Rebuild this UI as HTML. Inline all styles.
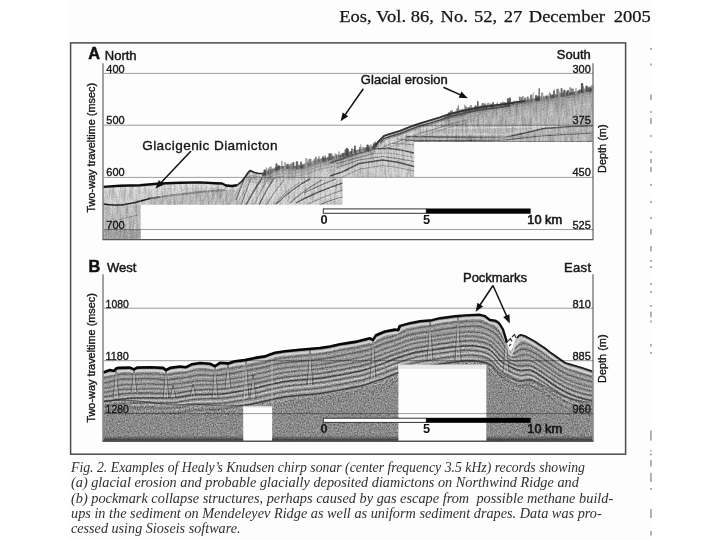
<!DOCTYPE html>
<html><head><meta charset="utf-8"><title>Eos figure</title>
<style>
html,body{margin:0;padding:0;background:#fff;width:720px;height:540px;overflow:hidden}
svg{display:block}
text{paint-order:stroke}
.hd{font-family:"Liberation Serif",serif;font-size:17px;fill:#151515;stroke:#151515;stroke-width:0.25px}
.pl{font-family:"Liberation Sans",sans-serif;font-size:16.3px;font-weight:bold;fill:#111;stroke:#111;stroke-width:0.5px}
.lb{font-family:"Liberation Sans",sans-serif;font-size:13px;fill:#151515;stroke:#151515;stroke-width:0.45px}
.ax{font-family:"Liberation Sans",sans-serif;font-size:11px;fill:#151515;stroke:#151515;stroke-width:0.35px}
.yl{font-family:"Liberation Sans",sans-serif;font-size:10.9px;fill:#151515;stroke:#151515;stroke-width:0.35px}
.sb{font-family:"Liberation Sans",sans-serif;font-size:12.8px;font-weight:bold;fill:#151515}
.sb2{font-family:"Liberation Sans",sans-serif;font-size:12.8px;fill:#151515;stroke:#151515;stroke-width:0.65px}
.cp{font-family:"Liberation Serif",serif;font-style:italic;font-size:14.2px;fill:#303030}
</style></head><body>
<svg width="720" height="540" viewBox="0 0 720 540">
<defs>
<filter id="nzd" x="0" y="0" width="720" height="540" filterUnits="userSpaceOnUse" primitiveUnits="userSpaceOnUse">
<feTurbulence type="fractalNoise" baseFrequency="0.7" numOctaves="2" seed="4" result="t"/>
<feColorMatrix in="t" type="matrix" values="0 0 0 0 0  0 0 0 0 0  0 0 0 0 0  1.8 0 0 0 -0.62"/>
</filter>
<filter id="nzl" x="0" y="0" width="720" height="540" filterUnits="userSpaceOnUse" primitiveUnits="userSpaceOnUse">
<feTurbulence type="fractalNoise" baseFrequency="0.7" numOctaves="2" seed="11" result="t"/>
<feColorMatrix in="t" type="matrix" values="0 0 0 0 1  0 0 0 0 1  0 0 0 0 1  1.8 0 0 0 -0.62"/>
</filter>
<filter id="nzd2" x="0" y="0" width="720" height="540" filterUnits="userSpaceOnUse" primitiveUnits="userSpaceOnUse">
<feTurbulence type="fractalNoise" baseFrequency="0.75 0.65" numOctaves="2" seed="5" result="t"/>
<feColorMatrix in="t" type="matrix" values="0 0 0 0 0  0 0 0 0 0  0 0 0 0 0  2.0 0 0 0 -0.7"/>
</filter>
<filter id="nzl2" x="0" y="0" width="720" height="540" filterUnits="userSpaceOnUse" primitiveUnits="userSpaceOnUse">
<feTurbulence type="fractalNoise" baseFrequency="0.75 0.65" numOctaves="2" seed="13" result="t"/>
<feColorMatrix in="t" type="matrix" values="0 0 0 0 1  0 0 0 0 1  0 0 0 0 1  2.0 0 0 0 -0.7"/>
</filter>
<filter id="nzv" x="0" y="0" width="720" height="540" filterUnits="userSpaceOnUse" primitiveUnits="userSpaceOnUse">
<feTurbulence type="fractalNoise" baseFrequency="0.5 0.06" numOctaves="2" seed="21" result="t"/>
<feColorMatrix in="t" type="matrix" values="0 0 0 0 0  0 0 0 0 0  0 0 0 0 0  2.0 0 0 0 -0.78"/>
</filter>
<clipPath id="cA"><polygon points="103.0,240.0 103.0,186.7 120.0,185.6 140.0,185.0 160.0,183.3 180.0,182.5 200.0,182.2 215.0,183.0 222.0,183.3 226.0,185.3 232.0,185.8 237.0,185.0 242.0,180.8 245.0,177.0 248.0,172.5 250.0,170.3 254.0,172.0 258.0,173.0 262.0,173.2 270.0,170.0 280.0,166.0 290.0,166.0 300.0,165.8 310.0,162.5 320.0,159.0 330.0,157.0 340.0,155.0 355.0,150.5 370.0,147.0 375.0,145.0 380.0,139.0 384.0,135.0 390.0,133.0 400.0,130.0 410.0,126.0 420.0,122.5 430.0,119.6 440.0,116.5 450.0,113.0 465.0,109.5 480.0,106.5 495.0,104.5 510.0,102.5 525.0,100.0 540.0,97.5 560.0,94.0 575.0,91.5 585.0,89.0 593.0,88.5 593.0,142.0 414.2,142.0 414.2,177.0 342.5,177.0 342.5,204.8 140.8,204.8 140.8,239.4 103.0,239.4"/></clipPath>
<clipPath id="cB"><polygon points="103.0,441.5 103.0,371.9 110.0,369.6 114.0,370.5 116.0,368.0 118.0,367.4 130.0,367.1 134.0,368.9 137.0,367.1 150.0,366.7 163.0,367.4 166.0,369.6 170.0,367.4 180.0,366.0 186.0,366.7 192.0,363.7 200.0,362.5 210.0,363.3 215.0,365.6 220.0,362.3 228.0,362.9 235.0,360.8 245.0,359.6 255.0,357.4 265.0,355.9 270.0,354.0 275.0,352.2 285.0,350.7 300.0,349.3 320.0,347.5 330.0,346.0 340.0,343.7 355.0,341.4 370.0,337.8 373.0,339.4 376.0,334.8 385.0,331.0 395.0,329.1 398.0,329.8 400.0,325.2 410.0,322.6 420.0,320.6 432.0,319.6 440.0,317.6 455.0,315.7 465.0,314.8 475.0,314.3 480.0,314.2 485.0,315.5 488.0,318.0 490.0,319.4 495.0,320.0 498.0,321.7 500.0,323.9 503.0,328.9 505.0,335.6 507.0,342.0 509.0,349.0 511.0,351.5 513.0,347.0 515.0,341.0 517.0,337.5 519.0,335.0 521.0,334.4 525.0,335.6 530.0,338.3 535.0,341.0 540.0,344.4 545.0,347.8 550.0,351.7 565.0,362.3 581.0,367.0 593.0,371.0 593.0,441.5 486.3,441.5 486.3,365.0 398.4,365.0 398.4,441.5 272.0,441.5 272.0,406.6 243.3,406.6 243.3,441.5"/></clipPath>
<filter id="soft" x="0" y="0" width="720" height="540" filterUnits="userSpaceOnUse"><feGaussianBlur stdDeviation="0.45"/></filter>
<filter id="soft2" x="0" y="0" width="720" height="540" filterUnits="userSpaceOnUse"><feGaussianBlur stdDeviation="0.6"/></filter>
</defs>
<rect x="0" y="0" width="720" height="540" fill="#fff"/>
<rect x="68" y="0" width="583" height="540" fill="#fdfdfd"/>
<text x="339.2" y="22.2" class="hd" transform="translate(339.2 0) scale(1.09 1) translate(-339.2 0)">Eos,</text>
<text x="376.1" y="22.2" class="hd" transform="translate(376.1 0) scale(1.09 1) translate(-376.1 0)">Vol.</text>
<text x="410.8" y="22.2" class="hd" transform="translate(410.8 0) scale(1.09 1) translate(-410.8 0)">86,</text>
<text x="440.6" y="22.2" class="hd" transform="translate(440.6 0) scale(1.09 1) translate(-440.6 0)">No.</text>
<text x="474" y="22.2" class="hd" transform="translate(474 0) scale(1.09 1) translate(-474 0)">52,</text>
<text x="503.8" y="22.2" class="hd" transform="translate(503.8 0) scale(1.09 1) translate(-503.8 0)">27</text>
<text x="528.8" y="22.2" class="hd" transform="translate(528.8 0) scale(1.09 1) translate(-528.8 0)">December</text>
<text x="613.8" y="22.2" class="hd" transform="translate(613.8 0) scale(1.09 1) translate(-613.8 0)">2005</text>
<rect x="70.6" y="42.9" width="555" height="411.3" fill="none" stroke="#4a4a4a" stroke-width="1.5"/>
<g clip-path="url(#cA)"><g filter="url(#soft)">
<rect x="103" y="80" width="490" height="162" fill="#dddddd"/>
<rect x="414" y="125" width="179" height="17" fill="#c6c6c6"/>
<rect x="445" y="80" width="148" height="45" fill="#c3c3c3"/>
<rect x="103" y="205" width="38" height="25" fill="#cbcbcb"/>
<rect x="103" y="229.8" width="38" height="10" fill="#a9a9a9"/>
<polygon points="150,199 200,192 240,189 240,206 150,206" fill="#cacaca"/>
<polyline points="103.0,189.9 106.0,189.7 109.0,189.5 112.0,189.3 115.0,189.1 118.0,188.9 121.0,188.8 124.0,188.7 127.0,188.6 130.0,188.5 133.0,188.4 136.0,188.3 139.0,188.2 142.0,188.0 145.0,187.8 148.0,187.5 151.0,187.3 154.0,187.0 157.0,186.8 160.0,186.5 163.0,186.4 166.0,186.3 169.0,186.1 172.0,186.0 175.0,185.9 178.0,185.8 181.0,185.7 184.0,185.6 187.0,185.6 190.0,185.5 193.0,185.5 196.0,185.5 199.0,185.4 202.0,185.5 205.0,185.7 208.0,185.8 211.0,186.0 214.0,186.1 217.0,186.3 220.0,186.4 223.0,187.0 226.0,188.5 229.0,188.8 232.0,189.0 235.0,188.5 238.0,187.4" fill="none" stroke="#ebebeb" stroke-width="3"/>
<polyline points="103,204 112,205 122,205 135,202.5 150,198.5 160,197" fill="none" stroke="#111" stroke-width="1.3"/>
<polyline points="150,198.5 170,195.5 200,192 225,190" fill="none" stroke="#7a7a7a" stroke-width="2" opacity="0.8"/>
<polyline points="112,222 125,218 138,215" fill="none" stroke="#8a8a8a" stroke-width="1" opacity="0.8"/>
<line x1="212" y1="187" x2="200" y2="206" stroke="#9a9a9a" stroke-width="1" opacity="0.6"/>
<line x1="219" y1="187" x2="207" y2="206" stroke="#9a9a9a" stroke-width="1" opacity="0.6"/>
<line x1="226" y1="187" x2="214" y2="206" stroke="#9a9a9a" stroke-width="1" opacity="0.6"/>
<line x1="233" y1="187" x2="221" y2="206" stroke="#9a9a9a" stroke-width="1" opacity="0.6"/>
<line x1="240" y1="187" x2="228" y2="206" stroke="#9a9a9a" stroke-width="1" opacity="0.6"/>
<line x1="247" y1="187" x2="235" y2="206" stroke="#9a9a9a" stroke-width="1" opacity="0.6"/>
<path d="M244,179 Q240,190 236,200" fill="none" stroke="#555" stroke-width="1.2" opacity="0.85"/>
<path d="M244,179 Q240,190 236,200" transform="translate(1.6 0.6)" fill="none" stroke="#f4f4f4" stroke-width="1" opacity="0.7"/>
<path d="M251,178 Q246,192 241,205" fill="none" stroke="#6a6a6a" stroke-width="1.0" opacity="0.85"/>
<path d="M251,178 Q246,192 241,205" transform="translate(1.6 0.6)" fill="none" stroke="#f4f4f4" stroke-width="1" opacity="0.7"/>
<path d="M262,178 Q254,190 246,205" fill="none" stroke="#3a3a3a" stroke-width="1.5" opacity="0.85"/>
<path d="M262,178 Q254,190 246,205" transform="translate(1.6 0.6)" fill="none" stroke="#f4f4f4" stroke-width="1" opacity="0.7"/>
<path d="M268,178 Q261,190 254,205" fill="none" stroke="#8a8a8a" stroke-width="1.0" opacity="0.85"/>
<path d="M268,178 Q261,190 254,205" transform="translate(1.6 0.6)" fill="none" stroke="#f4f4f4" stroke-width="1" opacity="0.7"/>
<path d="M274,178 Q266,190 259,205" fill="none" stroke="#4a4a4a" stroke-width="1.3" opacity="0.85"/>
<path d="M274,178 Q266,190 259,205" transform="translate(1.6 0.6)" fill="none" stroke="#f4f4f4" stroke-width="1" opacity="0.7"/>
<path d="M284,180 Q274,192 266,205" fill="none" stroke="#7a7a7a" stroke-width="1.1" opacity="0.85"/>
<path d="M284,180 Q274,192 266,205" transform="translate(1.6 0.6)" fill="none" stroke="#f4f4f4" stroke-width="1" opacity="0.7"/>
<path d="M310,179 Q292,188 276,204" fill="none" stroke="#3e3e3e" stroke-width="1.5" opacity="0.85"/>
<path d="M310,179 Q292,188 276,204" transform="translate(1.6 0.6)" fill="none" stroke="#f4f4f4" stroke-width="1" opacity="0.7"/>
<path d="M322,180 Q304,190 290,203" fill="none" stroke="#6a6a6a" stroke-width="1.2" opacity="0.85"/>
<path d="M322,180 Q304,190 290,203" transform="translate(1.6 0.6)" fill="none" stroke="#f4f4f4" stroke-width="1" opacity="0.7"/>
<path d="M336,179 Q318,186 304,193" fill="none" stroke="#5a5a5a" stroke-width="1.1" opacity="0.85"/>
<path d="M336,179 Q318,186 304,193" transform="translate(1.6 0.6)" fill="none" stroke="#f4f4f4" stroke-width="1" opacity="0.7"/>
<path d="M343,183 Q316,192 296,203" fill="none" stroke="#3a3a3a" stroke-width="1.4" opacity="0.85"/>
<path d="M343,183 Q316,192 296,203" transform="translate(1.6 0.6)" fill="none" stroke="#f4f4f4" stroke-width="1" opacity="0.7"/>
<path d="M343,190 Q325,196 308,204" fill="none" stroke="#777" stroke-width="1.1" opacity="0.85"/>
<path d="M343,190 Q325,196 308,204" transform="translate(1.6 0.6)" fill="none" stroke="#f4f4f4" stroke-width="1" opacity="0.7"/>
<path d="M343,197 Q330,200 320,205" fill="none" stroke="#666" stroke-width="1.1" opacity="0.85"/>
<path d="M343,197 Q330,200 320,205" transform="translate(1.6 0.6)" fill="none" stroke="#f4f4f4" stroke-width="1" opacity="0.7"/>
<path d="M300,182 Q285,192 278,200" fill="none" stroke="#999" stroke-width="1.0" opacity="0.85"/>
<path d="M300,182 Q285,192 278,200" transform="translate(1.6 0.6)" fill="none" stroke="#f4f4f4" stroke-width="1" opacity="0.7"/>
<polyline points="244.0,182.0 247.0,178.4 250.0,176.1 253.0,175.6 256.0,176.4 259.0,176.9 262.0,176.7 265.0,175.9 268.0,174.8 271.0,173.6 274.0,172.4 277.0,171.2 280.0,170.4 283.0,170.0 286.0,170.0 289.0,170.0 292.0,170.0 295.0,169.9 298.0,169.7 301.0,169.3 304.0,168.5 307.0,167.5 310.0,166.5 313.0,165.4 316.0,164.4 319.0,163.4 322.0,162.6 325.0,162.0 328.0,161.4 331.0,160.8 334.0,160.2 337.0,159.6 340.0,158.9 343.0,158.1" fill="none" stroke="#8a8a8a" stroke-width="1" opacity="0.5"/>
<polyline points="244.0,185.0 247.0,181.4 250.0,179.1 253.0,178.6 256.0,179.4 259.0,179.9 262.0,179.7 265.0,178.9 268.0,177.8 271.0,176.6 274.0,175.4 277.0,174.2 280.0,173.4 283.0,173.0 286.0,173.0 289.0,173.0 292.0,173.0 295.0,172.9 298.0,172.7 301.0,172.3 304.0,171.5 307.0,170.5 310.0,169.5 313.0,168.4 316.0,167.4 319.0,166.4 322.0,165.6 325.0,165.0 328.0,164.4 331.0,163.8 334.0,163.2 337.0,162.6 340.0,161.9 343.0,161.1" fill="none" stroke="#8a8a8a" stroke-width="1" opacity="0.5"/>
<polyline points="244.0,188.0 247.0,184.4 250.0,182.1 253.0,181.6 256.0,182.4 259.0,182.9 262.0,182.7 265.0,181.9 268.0,180.8 271.0,179.6 274.0,178.4 277.0,177.2 280.0,176.4 283.0,176.0 286.0,176.0 289.0,176.0 292.0,176.0 295.0,175.9 298.0,175.7 301.0,175.3 304.0,174.5 307.0,173.5 310.0,172.5 313.0,171.4 316.0,170.4 319.0,169.4 322.0,168.6 325.0,168.0 328.0,167.4 331.0,166.8 334.0,166.2 337.0,165.6 340.0,164.9 343.0,164.1" fill="none" stroke="#8a8a8a" stroke-width="1" opacity="0.5"/>
<polyline points="330.0,163.0 342.0,159.0 355.8,154.2 374.5,148.9 388.5,148.3 401.3,150.1 414.0,153.0" fill="none" stroke="#303030" stroke-width="1.4" opacity="0.85"/>
<polyline points="336.0,164.0 355.8,158.5 374.5,153.5 388.5,153.0 401.3,155.0 414.0,157.5" fill="none" stroke="#9a9a9a" stroke-width="1.0" opacity="0.85"/>
<polyline points="336.0,168.0 359.0,160.0 382.7,156.5 397.8,158.5 414.0,161.5" fill="none" stroke="#6a6a6a" stroke-width="1.0" opacity="0.85"/>
<polyline points="330.0,176.0 342.0,172.0 359.3,163.5 382.7,160.0 397.8,162.3 414.0,166.4" fill="none" stroke="#2e2e2e" stroke-width="1.5" opacity="0.85"/>
<polyline points="342.0,177.0 360.0,169.0 382.7,165.5 397.8,167.5 414.0,171.0" fill="none" stroke="#8a8a8a" stroke-width="1.0" opacity="0.85"/>
<polyline points="396.7,139.0 405.0,139.5 414.0,140.2" fill="none" stroke="#666" stroke-width="1.0" opacity="0.85"/>
<polyline points="392.0,143.5 405.0,144.0 414.0,145.0" fill="none" stroke="#888" stroke-width="1.0" opacity="0.85"/>
<polyline points="336.0,159.8 339.0,159.1 342.0,158.4 345.0,157.5 348.0,156.6 351.0,155.7 354.0,154.8 357.0,154.1 360.0,153.3 363.0,152.6 366.0,151.9 369.0,151.1 372.0,150.1 375.0,148.1" fill="none" stroke="#777" stroke-width="1" opacity="0.6"/>
<polyline points="336.0,163.3 339.0,162.6 342.0,161.9 345.0,161.0 348.0,160.1 351.0,159.2 354.0,158.3 357.0,157.6 360.0,156.8 363.0,156.1 366.0,155.4 369.0,154.6 372.0,153.6 375.0,151.6" fill="none" stroke="#777" stroke-width="1" opacity="0.6"/>
<polyline points="405.0,128.0 450.0,128.0 500.0,127.5 544.0,126.5 593.0,126.0" fill="none" stroke="#eeeeee" stroke-width="1.6" opacity="0.85"/>
<polyline points="405.0,136.5 440.0,137.0 480.0,137.2 505.0,137.5 525.0,133.0 544.0,128.5 570.0,126.5 593.0,125.8" fill="none" stroke="#3a3a3a" stroke-width="1.3" opacity="0.85"/>
<polyline points="405.0,133.5 440.0,134.0 480.0,134.2 505.0,134.5 525.0,130.5 544.0,127.0" fill="none" stroke="#e8e8e8" stroke-width="1.2" opacity="0.85"/>
<polyline points="405.0,140.5 440.0,140.5 470.0,140.3 505.0,140.0 540.0,136.0 593.0,133.0" fill="none" stroke="#4a4a4a" stroke-width="1.2" opacity="0.85"/>
<polyline points="405.0,139.0 470.0,138.8 520.0,136.8 560.0,133.5 593.0,131.0" fill="none" stroke="#aaaaaa" stroke-width="1.0" opacity="0.85"/>
<rect x="414" y="141" width="179" height="1.5" fill="#555" opacity="0.6"/>
<polyline points="380.0,144.2 383.0,141.5 386.0,139.6 389.0,138.4 392.0,137.4 395.0,136.5 398.0,135.6 401.0,134.5 404.0,133.4 407.0,132.2 410.0,131.1 413.0,130.0 416.0,128.9 419.0,127.9 422.0,126.9 425.0,126.1 428.0,125.2 431.0,124.3 434.0,123.4 437.0,122.4 440.0,121.5 443.0,120.4 446.0,119.4 449.0,118.4 452.0,117.6 455.0,116.8 458.0,116.1 461.0,115.4 464.0,114.8 467.0,114.1" fill="none" stroke="#6a6a6a" stroke-width="1" opacity="0.7"/>
<polyline points="380.0,147.7 383.0,145.0 386.0,143.1 389.0,141.9 392.0,140.9 395.0,140.0 398.0,139.1 401.0,138.0 404.0,136.9 407.0,135.7 410.0,134.6 413.0,133.5 416.0,132.4 419.0,131.4 422.0,130.4 425.0,129.6 428.0,128.7 431.0,127.8 434.0,126.9 437.0,125.9 440.0,125.0 443.0,123.9 446.0,122.9 449.0,121.9 452.0,121.1 455.0,120.3 458.0,119.6 461.0,118.9 464.0,118.3 467.0,117.6" fill="none" stroke="#e6e6e6" stroke-width="1" opacity="0.7"/>
<polyline points="380.0,150.2 383.0,147.5 386.0,145.6 389.0,144.4 392.0,143.4 395.0,142.5 398.0,141.6 401.0,140.5 404.0,139.4 407.0,138.2 410.0,137.1 413.0,136.0 416.0,134.9 419.0,133.9 422.0,132.9 425.0,132.1 428.0,131.2 431.0,130.3 434.0,129.4 437.0,128.4 440.0,127.5 443.0,126.4 446.0,125.4 449.0,124.4 452.0,123.6 455.0,122.8 458.0,122.1 461.0,121.4 464.0,120.8 467.0,120.1" fill="none" stroke="#777" stroke-width="1" opacity="0.7"/>
<polyline points="380.0,153.2 383.0,150.5 386.0,148.6 389.0,147.4 392.0,146.4 395.0,145.5 398.0,144.6 401.0,143.5 404.0,142.4 407.0,141.2 410.0,140.1 413.0,139.0 416.0,137.9 419.0,136.9 422.0,135.9 425.0,135.1 428.0,134.2 431.0,133.3 434.0,132.4 437.0,131.4 440.0,130.5 443.0,129.4 446.0,128.4 449.0,127.4 452.0,126.6 455.0,125.8 458.0,125.1 461.0,124.4 464.0,123.8 467.0,123.1" fill="none" stroke="#999" stroke-width="1" opacity="0.7"/>
<polyline points="262.0,173.7 264.0,172.9 266.0,172.1 268.0,171.3 270.0,170.5 272.0,169.7 274.0,168.9 276.0,168.1 278.0,167.3 280.0,166.5 282.0,166.5 284.0,166.5 286.0,166.5 288.0,166.5 290.0,166.5 292.0,166.5 294.0,166.4 296.0,166.4 298.0,166.3 300.0,166.3 302.0,165.6 304.0,165.0 306.0,164.3 308.0,163.7 310.0,163.0 312.0,162.3 314.0,161.6 316.0,160.9 318.0,160.2 320.0,159.5 322.0,159.1 324.0,158.7 326.0,158.3 328.0,157.9 330.0,157.5 332.0,157.1 334.0,156.7 336.0,156.3 338.0,155.9 340.0,155.5 342.0,154.9 344.0,154.3 346.0,153.7 348.0,153.1 350.0,152.5 352.0,151.9 354.0,151.3 356.0,150.8 358.0,150.3 360.0,149.8 362.0,149.4 364.0,148.9 366.0,148.4 368.0,148.0 370.0,147.5 372.0,146.7 374.0,145.9 376.0,144.3" fill="none" stroke="#555" stroke-width="2" opacity="0.75"/>
<polyline points="445.0,115.2 447.0,114.5 449.0,113.8 451.0,113.3 453.0,112.8 455.0,112.3 457.0,111.9 459.0,111.4 461.0,110.9 463.0,110.5 465.0,110.0 467.0,109.6 469.0,109.2 471.0,108.8 473.0,108.4 475.0,108.0 477.0,107.6 479.0,107.2 481.0,106.9 483.0,106.6 485.0,106.3 487.0,106.1 489.0,105.8 491.0,105.5 493.0,105.3 495.0,105.0 497.0,104.7 499.0,104.5 501.0,104.2 503.0,103.9 505.0,103.7 507.0,103.4 509.0,103.1 511.0,102.8 513.0,102.5 515.0,102.2 517.0,101.8 519.0,101.5 521.0,101.2 523.0,100.8 525.0,100.5 527.0,100.2 529.0,99.8 531.0,99.5 533.0,99.2 535.0,98.8 537.0,98.5 539.0,98.2 541.0,97.8 543.0,97.5 545.0,97.1 547.0,96.8 549.0,96.4 551.0,96.1 553.0,95.7 555.0,95.4 557.0,95.0 559.0,94.7 561.0,94.3 563.0,94.0 565.0,93.7 567.0,93.3 569.0,93.0 571.0,92.7 573.0,92.3 575.0,92.0 577.0,91.5 579.0,91.0 581.0,90.5 583.0,90.0 585.0,89.5 587.0,89.4 589.0,89.2 591.0,89.1 593.0,89.0" fill="none" stroke="#555" stroke-width="2" opacity="0.75"/>
<polyline points="262.0,175.2 264.0,174.4 266.0,173.6 268.0,172.8 270.0,172.0 272.0,171.2 274.0,170.4 276.0,169.6 278.0,168.8 280.0,168.0 282.0,168.0 284.0,168.0 286.0,168.0 288.0,168.0 290.0,168.0 292.0,168.0 294.0,167.9 296.0,167.9 298.0,167.8 300.0,167.8 302.0,167.1 304.0,166.5 306.0,165.8 308.0,165.2 310.0,164.5 312.0,163.8 314.0,163.1 316.0,162.4 318.0,161.7 320.0,161.0 322.0,160.6 324.0,160.2 326.0,159.8 328.0,159.4 330.0,159.0 332.0,158.6 334.0,158.2 336.0,157.8 338.0,157.4 340.0,157.0 342.0,156.4 344.0,155.8 346.0,155.2 348.0,154.6 350.0,154.0 352.0,153.4 354.0,152.8 356.0,152.3 358.0,151.8 360.0,151.3 362.0,150.9 364.0,150.4 366.0,149.9 368.0,149.5 370.0,149.0 372.0,148.2 374.0,147.4 376.0,145.8" fill="none" stroke="#555" stroke-width="2" opacity="0.55"/>
<polyline points="445.0,116.8 447.0,116.0 449.0,115.3 451.0,114.8 453.0,114.3 455.0,113.8 457.0,113.4 459.0,112.9 461.0,112.4 463.0,112.0 465.0,111.5 467.0,111.1 469.0,110.7 471.0,110.3 473.0,109.9 475.0,109.5 477.0,109.1 479.0,108.7 481.0,108.4 483.0,108.1 485.0,107.8 487.0,107.6 489.0,107.3 491.0,107.0 493.0,106.8 495.0,106.5 497.0,106.2 499.0,106.0 501.0,105.7 503.0,105.4 505.0,105.2 507.0,104.9 509.0,104.6 511.0,104.3 513.0,104.0 515.0,103.7 517.0,103.3 519.0,103.0 521.0,102.7 523.0,102.3 525.0,102.0 527.0,101.7 529.0,101.3 531.0,101.0 533.0,100.7 535.0,100.3 537.0,100.0 539.0,99.7 541.0,99.3 543.0,99.0 545.0,98.6 547.0,98.3 549.0,97.9 551.0,97.6 553.0,97.2 555.0,96.9 557.0,96.5 559.0,96.2 561.0,95.8 563.0,95.5 565.0,95.2 567.0,94.8 569.0,94.5 571.0,94.2 573.0,93.8 575.0,93.5 577.0,93.0 579.0,92.5 581.0,92.0 583.0,91.5 585.0,91.0 587.0,90.9 589.0,90.8 591.0,90.6 593.0,90.5" fill="none" stroke="#555" stroke-width="2" opacity="0.55"/>
<polyline points="262.0,176.7 264.0,175.9 266.0,175.1 268.0,174.3 270.0,173.5 272.0,172.7 274.0,171.9 276.0,171.1 278.0,170.3 280.0,169.5 282.0,169.5 284.0,169.5 286.0,169.5 288.0,169.5 290.0,169.5 292.0,169.5 294.0,169.4 296.0,169.4 298.0,169.3 300.0,169.3 302.0,168.6 304.0,168.0 306.0,167.3 308.0,166.7 310.0,166.0 312.0,165.3 314.0,164.6 316.0,163.9 318.0,163.2 320.0,162.5 322.0,162.1 324.0,161.7 326.0,161.3 328.0,160.9 330.0,160.5 332.0,160.1 334.0,159.7 336.0,159.3 338.0,158.9 340.0,158.5 342.0,157.9 344.0,157.3 346.0,156.7 348.0,156.1 350.0,155.5 352.0,154.9 354.0,154.3 356.0,153.8 358.0,153.3 360.0,152.8 362.0,152.4 364.0,151.9 366.0,151.4 368.0,151.0 370.0,150.5 372.0,149.7 374.0,148.9 376.0,147.3" fill="none" stroke="#555" stroke-width="2" opacity="0.4"/>
<polyline points="445.0,118.2 447.0,117.5 449.0,116.8 451.0,116.3 453.0,115.8 455.0,115.3 457.0,114.9 459.0,114.4 461.0,113.9 463.0,113.5 465.0,113.0 467.0,112.6 469.0,112.2 471.0,111.8 473.0,111.4 475.0,111.0 477.0,110.6 479.0,110.2 481.0,109.9 483.0,109.6 485.0,109.3 487.0,109.1 489.0,108.8 491.0,108.5 493.0,108.3 495.0,108.0 497.0,107.7 499.0,107.5 501.0,107.2 503.0,106.9 505.0,106.7 507.0,106.4 509.0,106.1 511.0,105.8 513.0,105.5 515.0,105.2 517.0,104.8 519.0,104.5 521.0,104.2 523.0,103.8 525.0,103.5 527.0,103.2 529.0,102.8 531.0,102.5 533.0,102.2 535.0,101.8 537.0,101.5 539.0,101.2 541.0,100.8 543.0,100.5 545.0,100.1 547.0,99.8 549.0,99.4 551.0,99.1 553.0,98.7 555.0,98.4 557.0,98.0 559.0,97.7 561.0,97.3 563.0,97.0 565.0,96.7 567.0,96.3 569.0,96.0 571.0,95.7 573.0,95.3 575.0,95.0 577.0,94.5 579.0,94.0 581.0,93.5 583.0,93.0 585.0,92.5 587.0,92.4 589.0,92.2 591.0,92.1 593.0,92.0" fill="none" stroke="#555" stroke-width="2" opacity="0.4"/>
<polyline points="262.0,178.7 264.0,177.9 266.0,177.1 268.0,176.3 270.0,175.5 272.0,174.7 274.0,173.9 276.0,173.1 278.0,172.3 280.0,171.5 282.0,171.5 284.0,171.5 286.0,171.5 288.0,171.5 290.0,171.5 292.0,171.5 294.0,171.4 296.0,171.4 298.0,171.3 300.0,171.3 302.0,170.6 304.0,170.0 306.0,169.3 308.0,168.7 310.0,168.0 312.0,167.3 314.0,166.6 316.0,165.9 318.0,165.2 320.0,164.5 322.0,164.1 324.0,163.7 326.0,163.3 328.0,162.9 330.0,162.5 332.0,162.1 334.0,161.7 336.0,161.3 338.0,160.9 340.0,160.5 342.0,159.9 344.0,159.3 346.0,158.7 348.0,158.1 350.0,157.5 352.0,156.9 354.0,156.3 356.0,155.8 358.0,155.3 360.0,154.8 362.0,154.4 364.0,153.9 366.0,153.4 368.0,153.0 370.0,152.5 372.0,151.7 374.0,150.9 376.0,149.3" fill="none" stroke="#555" stroke-width="2" opacity="0.3"/>
<polyline points="445.0,120.2 447.0,119.5 449.0,118.8 451.0,118.3 453.0,117.8 455.0,117.3 457.0,116.9 459.0,116.4 461.0,115.9 463.0,115.5 465.0,115.0 467.0,114.6 469.0,114.2 471.0,113.8 473.0,113.4 475.0,113.0 477.0,112.6 479.0,112.2 481.0,111.9 483.0,111.6 485.0,111.3 487.0,111.1 489.0,110.8 491.0,110.5 493.0,110.3 495.0,110.0 497.0,109.7 499.0,109.5 501.0,109.2 503.0,108.9 505.0,108.7 507.0,108.4 509.0,108.1 511.0,107.8 513.0,107.5 515.0,107.2 517.0,106.8 519.0,106.5 521.0,106.2 523.0,105.8 525.0,105.5 527.0,105.2 529.0,104.8 531.0,104.5 533.0,104.2 535.0,103.8 537.0,103.5 539.0,103.2 541.0,102.8 543.0,102.5 545.0,102.1 547.0,101.8 549.0,101.4 551.0,101.1 553.0,100.7 555.0,100.4 557.0,100.0 559.0,99.7 561.0,99.3 563.0,99.0 565.0,98.7 567.0,98.3 569.0,98.0 571.0,97.7 573.0,97.3 575.0,97.0 577.0,96.5 579.0,96.0 581.0,95.5 583.0,95.0 585.0,94.5 587.0,94.4 589.0,94.2 591.0,94.1 593.0,94.0" fill="none" stroke="#555" stroke-width="2" opacity="0.3"/>
<polyline points="262.0,181.2 264.0,180.4 266.0,179.6 268.0,178.8 270.0,178.0 272.0,177.2 274.0,176.4 276.0,175.6 278.0,174.8 280.0,174.0 282.0,174.0 284.0,174.0 286.0,174.0 288.0,174.0 290.0,174.0 292.0,174.0 294.0,173.9 296.0,173.9 298.0,173.8 300.0,173.8 302.0,173.1 304.0,172.5 306.0,171.8 308.0,171.2 310.0,170.5 312.0,169.8 314.0,169.1 316.0,168.4 318.0,167.7 320.0,167.0 322.0,166.6 324.0,166.2 326.0,165.8 328.0,165.4 330.0,165.0 332.0,164.6 334.0,164.2 336.0,163.8 338.0,163.4 340.0,163.0 342.0,162.4 344.0,161.8 346.0,161.2 348.0,160.6 350.0,160.0 352.0,159.4 354.0,158.8 356.0,158.3 358.0,157.8 360.0,157.3 362.0,156.9 364.0,156.4 366.0,155.9 368.0,155.5 370.0,155.0 372.0,154.2 374.0,153.4 376.0,151.8" fill="none" stroke="#555" stroke-width="2" opacity="0.2"/>
<polyline points="445.0,122.8 447.0,122.0 449.0,121.3 451.0,120.8 453.0,120.3 455.0,119.8 457.0,119.4 459.0,118.9 461.0,118.4 463.0,118.0 465.0,117.5 467.0,117.1 469.0,116.7 471.0,116.3 473.0,115.9 475.0,115.5 477.0,115.1 479.0,114.7 481.0,114.4 483.0,114.1 485.0,113.8 487.0,113.6 489.0,113.3 491.0,113.0 493.0,112.8 495.0,112.5 497.0,112.2 499.0,112.0 501.0,111.7 503.0,111.4 505.0,111.2 507.0,110.9 509.0,110.6 511.0,110.3 513.0,110.0 515.0,109.7 517.0,109.3 519.0,109.0 521.0,108.7 523.0,108.3 525.0,108.0 527.0,107.7 529.0,107.3 531.0,107.0 533.0,106.7 535.0,106.3 537.0,106.0 539.0,105.7 541.0,105.3 543.0,105.0 545.0,104.6 547.0,104.3 549.0,103.9 551.0,103.6 553.0,103.2 555.0,102.9 557.0,102.5 559.0,102.2 561.0,101.8 563.0,101.5 565.0,101.2 567.0,100.8 569.0,100.5 571.0,100.2 573.0,99.8 575.0,99.5 577.0,99.0 579.0,98.5 581.0,98.0 583.0,97.5 585.0,97.0 587.0,96.9 589.0,96.8 591.0,96.6 593.0,96.5" fill="none" stroke="#555" stroke-width="2" opacity="0.2"/>
<polyline points="262.0,183.7 264.0,182.9 266.0,182.1 268.0,181.3 270.0,180.5 272.0,179.7 274.0,178.9 276.0,178.1 278.0,177.3 280.0,176.5 282.0,176.5 284.0,176.5 286.0,176.5 288.0,176.5 290.0,176.5 292.0,176.5 294.0,176.4 296.0,176.4 298.0,176.3 300.0,176.3 302.0,175.6 304.0,175.0 306.0,174.3 308.0,173.7 310.0,173.0 312.0,172.3 314.0,171.6 316.0,170.9 318.0,170.2 320.0,169.5 322.0,169.1 324.0,168.7 326.0,168.3 328.0,167.9 330.0,167.5 332.0,167.1 334.0,166.7 336.0,166.3 338.0,165.9 340.0,165.5 342.0,164.9 344.0,164.3 346.0,163.7 348.0,163.1 350.0,162.5 352.0,161.9 354.0,161.3 356.0,160.8 358.0,160.3 360.0,159.8 362.0,159.4 364.0,158.9 366.0,158.4 368.0,158.0 370.0,157.5 372.0,156.7 374.0,155.9 376.0,154.3" fill="none" stroke="#555" stroke-width="2" opacity="0.12"/>
<polyline points="445.0,125.2 447.0,124.5 449.0,123.8 451.0,123.3 453.0,122.8 455.0,122.3 457.0,121.9 459.0,121.4 461.0,120.9 463.0,120.5 465.0,120.0 467.0,119.6 469.0,119.2 471.0,118.8 473.0,118.4 475.0,118.0 477.0,117.6 479.0,117.2 481.0,116.9 483.0,116.6 485.0,116.3 487.0,116.1 489.0,115.8 491.0,115.5 493.0,115.3 495.0,115.0 497.0,114.7 499.0,114.5 501.0,114.2 503.0,113.9 505.0,113.7 507.0,113.4 509.0,113.1 511.0,112.8 513.0,112.5 515.0,112.2 517.0,111.8 519.0,111.5 521.0,111.2 523.0,110.8 525.0,110.5 527.0,110.2 529.0,109.8 531.0,109.5 533.0,109.2 535.0,108.8 537.0,108.5 539.0,108.2 541.0,107.8 543.0,107.5 545.0,107.1 547.0,106.8 549.0,106.4 551.0,106.1 553.0,105.7 555.0,105.4 557.0,105.0 559.0,104.7 561.0,104.3 563.0,104.0 565.0,103.7 567.0,103.3 569.0,103.0 571.0,102.7 573.0,102.3 575.0,102.0 577.0,101.5 579.0,101.0 581.0,100.5 583.0,100.0 585.0,99.5 587.0,99.4 589.0,99.2 591.0,99.1 593.0,99.0" fill="none" stroke="#555" stroke-width="2" opacity="0.12"/>
<polyline points="262.0,186.2 264.0,185.4 266.0,184.6 268.0,183.8 270.0,183.0 272.0,182.2 274.0,181.4 276.0,180.6 278.0,179.8 280.0,179.0 282.0,179.0 284.0,179.0 286.0,179.0 288.0,179.0 290.0,179.0 292.0,179.0 294.0,178.9 296.0,178.9 298.0,178.8 300.0,178.8 302.0,178.1 304.0,177.5 306.0,176.8 308.0,176.2 310.0,175.5 312.0,174.8 314.0,174.1 316.0,173.4 318.0,172.7 320.0,172.0 322.0,171.6 324.0,171.2 326.0,170.8 328.0,170.4 330.0,170.0 332.0,169.6 334.0,169.2 336.0,168.8 338.0,168.4 340.0,168.0 342.0,167.4 344.0,166.8 346.0,166.2 348.0,165.6 350.0,165.0 352.0,164.4 354.0,163.8 356.0,163.3 358.0,162.8 360.0,162.3 362.0,161.9 364.0,161.4 366.0,160.9 368.0,160.5 370.0,160.0 372.0,159.2 374.0,158.4 376.0,156.8" fill="none" stroke="#555" stroke-width="2" opacity="0.08"/>
<polyline points="445.0,127.8 447.0,127.0 449.0,126.3 451.0,125.8 453.0,125.3 455.0,124.8 457.0,124.4 459.0,123.9 461.0,123.4 463.0,123.0 465.0,122.5 467.0,122.1 469.0,121.7 471.0,121.3 473.0,120.9 475.0,120.5 477.0,120.1 479.0,119.7 481.0,119.4 483.0,119.1 485.0,118.8 487.0,118.6 489.0,118.3 491.0,118.0 493.0,117.8 495.0,117.5 497.0,117.2 499.0,117.0 501.0,116.7 503.0,116.4 505.0,116.2 507.0,115.9 509.0,115.6 511.0,115.3 513.0,115.0 515.0,114.7 517.0,114.3 519.0,114.0 521.0,113.7 523.0,113.3 525.0,113.0 527.0,112.7 529.0,112.3 531.0,112.0 533.0,111.7 535.0,111.3 537.0,111.0 539.0,110.7 541.0,110.3 543.0,110.0 545.0,109.6 547.0,109.3 549.0,108.9 551.0,108.6 553.0,108.2 555.0,107.9 557.0,107.5 559.0,107.2 561.0,106.8 563.0,106.5 565.0,106.2 567.0,105.8 569.0,105.5 571.0,105.2 573.0,104.8 575.0,104.5 577.0,104.0 579.0,103.5 581.0,103.0 583.0,102.5 585.0,102.0 587.0,101.9 589.0,101.8 591.0,101.6 593.0,101.5" fill="none" stroke="#555" stroke-width="2" opacity="0.08"/>
<rect x="103" y="80" width="490" height="162" fill="#000" filter="url(#nzd)" opacity="0.2"/>
<rect x="103" y="80" width="490" height="162" fill="#fff" filter="url(#nzl)" opacity="0.3"/>
<rect x="445" y="80" width="148" height="45" fill="#000" filter="url(#nzv)" opacity="0.25"/>
</g></g>
<g filter="url(#soft2)">
<rect x="262.0" y="172.3" width="2.0" height="3.9" rx="0.8" fill="#555" opacity="0.85"/>
<rect x="263.6" y="169.5" width="2.4" height="6.1" rx="0.8" fill="#3a3a3a" opacity="0.85"/>
<rect x="264.9" y="170.0" width="1.6" height="5.1" rx="0.8" fill="#4a4a4a" opacity="0.85"/>
<rect x="265.8" y="167.3" width="1.3" height="7.3" rx="0.8" fill="#8a8a8a" opacity="0.85"/>
<rect x="267.8" y="168.5" width="2.3" height="5.3" rx="0.8" fill="#555" opacity="0.85"/>
<rect x="268.9" y="166.5" width="1.0" height="6.9" rx="0.8" fill="#a0a0a0" opacity="0.85"/>
<rect x="270.2" y="166.2" width="1.3" height="6.7" rx="0.8" fill="#606060" opacity="0.85"/>
<rect x="271.4" y="168.2" width="1.7" height="4.2" rx="0.8" fill="#7a7a7a" opacity="0.85"/>
<rect x="274.6" y="166.9" width="1.9" height="4.2" rx="0.8" fill="#6a6a6a" opacity="0.85"/>
<rect x="275.5" y="163.2" width="2.0" height="7.6" rx="0.8" fill="#4a4a4a" opacity="0.85"/>
<rect x="276.8" y="166.1" width="2.2" height="4.2" rx="0.8" fill="#4a4a4a" opacity="0.85"/>
<rect x="278.0" y="165.1" width="1.8" height="4.7" rx="0.8" fill="#4a4a4a" opacity="0.85"/>
<rect x="281.3" y="160.8" width="1.1" height="8.2" rx="0.8" fill="#6a6a6a" opacity="0.85"/>
<rect x="283.9" y="161.9" width="2.1" height="7.1" rx="0.8" fill="#a0a0a0" opacity="0.85"/>
<rect x="285.5" y="164.9" width="2.4" height="4.1" rx="0.8" fill="#7a7a7a" opacity="0.85"/>
<rect x="286.5" y="163.7" width="2.4" height="5.3" rx="0.8" fill="#555" opacity="0.85"/>
<rect x="288.2" y="165.0" width="2.1" height="4.0" rx="0.8" fill="#6a6a6a" opacity="0.85"/>
<rect x="289.6" y="163.8" width="2.0" height="5.2" rx="0.8" fill="#8a8a8a" opacity="0.85"/>
<rect x="290.6" y="163.5" width="2.1" height="5.5" rx="0.8" fill="#7a7a7a" opacity="0.85"/>
<rect x="291.5" y="162.4" width="2.3" height="6.6" rx="0.8" fill="#8a8a8a" opacity="0.85"/>
<rect x="292.8" y="161.9" width="1.6" height="7.1" rx="0.8" fill="#555" opacity="0.85"/>
<rect x="295.8" y="161.3" width="2.3" height="7.6" rx="0.8" fill="#3a3a3a" opacity="0.85"/>
<rect x="296.6" y="161.5" width="1.3" height="7.4" rx="0.8" fill="#7a7a7a" opacity="0.85"/>
<rect x="297.6" y="164.2" width="1.3" height="4.7" rx="0.8" fill="#7a7a7a" opacity="0.85"/>
<rect x="298.6" y="164.4" width="1.1" height="4.4" rx="0.8" fill="#606060" opacity="0.85"/>
<rect x="300.1" y="161.4" width="1.9" height="7.4" rx="0.8" fill="#555" opacity="0.85"/>
<rect x="301.3" y="164.5" width="2.2" height="3.9" rx="0.8" fill="#3a3a3a" opacity="0.85"/>
<rect x="302.3" y="163.9" width="1.3" height="4.2" rx="0.8" fill="#6a6a6a" opacity="0.85"/>
<rect x="303.4" y="163.6" width="2.2" height="4.0" rx="0.8" fill="#7a7a7a" opacity="0.85"/>
<rect x="304.9" y="158.1" width="2.3" height="9.1" rx="0.8" fill="#a0a0a0" opacity="0.85"/>
<rect x="306.4" y="161.7" width="1.4" height="5.0" rx="0.8" fill="#8a8a8a" opacity="0.85"/>
<rect x="307.6" y="159.0" width="1.1" height="7.3" rx="0.8" fill="#606060" opacity="0.85"/>
<rect x="309.1" y="158.7" width="2.3" height="7.0" rx="0.8" fill="#6a6a6a" opacity="0.85"/>
<rect x="310.7" y="161.4" width="1.7" height="3.8" rx="0.8" fill="#8a8a8a" opacity="0.85"/>
<rect x="311.6" y="160.7" width="1.6" height="4.2" rx="0.8" fill="#a0a0a0" opacity="0.85"/>
<rect x="312.9" y="159.6" width="1.4" height="4.9" rx="0.8" fill="#a0a0a0" opacity="0.85"/>
<rect x="314.2" y="158.2" width="1.9" height="5.9" rx="0.8" fill="#606060" opacity="0.85"/>
<rect x="315.1" y="156.6" width="1.8" height="7.1" rx="0.8" fill="#7a7a7a" opacity="0.85"/>
<rect x="316.4" y="159.2" width="2.2" height="4.0" rx="0.8" fill="#a0a0a0" opacity="0.85"/>
<rect x="317.3" y="158.2" width="2.1" height="4.7" rx="0.8" fill="#7a7a7a" opacity="0.85"/>
<rect x="318.4" y="156.0" width="1.2" height="6.6" rx="0.8" fill="#6a6a6a" opacity="0.85"/>
<rect x="320.8" y="157.8" width="2.3" height="4.0" rx="0.8" fill="#8a8a8a" opacity="0.85"/>
<rect x="322.2" y="156.1" width="1.6" height="5.4" rx="0.8" fill="#4a4a4a" opacity="0.85"/>
<rect x="323.2" y="157.3" width="1.2" height="4.1" rx="0.8" fill="#4a4a4a" opacity="0.85"/>
<rect x="324.5" y="155.3" width="1.3" height="5.8" rx="0.8" fill="#4a4a4a" opacity="0.85"/>
<rect x="327.1" y="156.7" width="1.2" height="3.9" rx="0.8" fill="#6a6a6a" opacity="0.85"/>
<rect x="328.4" y="153.3" width="2.1" height="7.0" rx="0.8" fill="#4a4a4a" opacity="0.85"/>
<rect x="329.7" y="153.2" width="1.3" height="6.8" rx="0.8" fill="#555" opacity="0.85"/>
<rect x="330.7" y="153.3" width="1.8" height="6.6" rx="0.8" fill="#6a6a6a" opacity="0.85"/>
<rect x="332.1" y="155.6" width="1.2" height="3.9" rx="0.8" fill="#555" opacity="0.85"/>
<rect x="334.2" y="153.3" width="2.1" height="5.9" rx="0.8" fill="#a0a0a0" opacity="0.85"/>
<rect x="335.7" y="154.5" width="1.9" height="4.3" rx="0.8" fill="#606060" opacity="0.85"/>
<rect x="337.1" y="154.3" width="1.1" height="4.2" rx="0.8" fill="#a0a0a0" opacity="0.85"/>
<rect x="338.4" y="151.2" width="1.1" height="7.1" rx="0.8" fill="#6a6a6a" opacity="0.85"/>
<rect x="339.8" y="154.2" width="2.4" height="3.8" rx="0.8" fill="#555" opacity="0.85"/>
<rect x="340.8" y="153.2" width="2.3" height="4.6" rx="0.8" fill="#8a8a8a" opacity="0.85"/>
<rect x="342.3" y="152.8" width="1.2" height="4.5" rx="0.8" fill="#3a3a3a" opacity="0.85"/>
<rect x="343.4" y="152.5" width="2.1" height="4.5" rx="0.8" fill="#4a4a4a" opacity="0.85"/>
<rect x="344.4" y="149.5" width="2.3" height="7.2" rx="0.8" fill="#7a7a7a" opacity="0.85"/>
<rect x="345.6" y="148.1" width="2.4" height="8.2" rx="0.8" fill="#3a3a3a" opacity="0.85"/>
<rect x="346.9" y="148.9" width="2.0" height="7.0" rx="0.8" fill="#4a4a4a" opacity="0.85"/>
<rect x="348.5" y="151.5" width="1.6" height="4.0" rx="0.8" fill="#6a6a6a" opacity="0.85"/>
<rect x="349.6" y="151.1" width="1.9" height="4.0" rx="0.8" fill="#6a6a6a" opacity="0.85"/>
<rect x="351.2" y="148.5" width="1.6" height="6.1" rx="0.8" fill="#3a3a3a" opacity="0.85"/>
<rect x="352.0" y="149.3" width="2.2" height="5.1" rx="0.8" fill="#8a8a8a" opacity="0.85"/>
<rect x="352.9" y="148.8" width="2.1" height="5.4" rx="0.8" fill="#a0a0a0" opacity="0.85"/>
<rect x="354.1" y="145.6" width="1.7" height="8.2" rx="0.8" fill="#3a3a3a" opacity="0.85"/>
<rect x="357.7" y="149.0" width="1.5" height="3.9" rx="0.8" fill="#a0a0a0" opacity="0.85"/>
<rect x="359.3" y="146.8" width="1.4" height="5.7" rx="0.8" fill="#3a3a3a" opacity="0.85"/>
<rect x="360.3" y="144.1" width="1.0" height="8.2" rx="0.8" fill="#8a8a8a" opacity="0.85"/>
<rect x="361.4" y="146.8" width="2.3" height="5.2" rx="0.8" fill="#a0a0a0" opacity="0.85"/>
<rect x="362.7" y="147.5" width="1.1" height="4.2" rx="0.8" fill="#7a7a7a" opacity="0.85"/>
<rect x="364.3" y="146.9" width="1.2" height="4.4" rx="0.8" fill="#6a6a6a" opacity="0.85"/>
<rect x="365.5" y="147.0" width="1.8" height="4.0" rx="0.8" fill="#606060" opacity="0.85"/>
<rect x="366.5" y="144.4" width="2.2" height="6.4" rx="0.8" fill="#3a3a3a" opacity="0.85"/>
<rect x="367.4" y="146.5" width="1.1" height="4.1" rx="0.8" fill="#4a4a4a" opacity="0.85"/>
<rect x="368.2" y="146.0" width="1.4" height="4.4" rx="0.8" fill="#4a4a4a" opacity="0.85"/>
<rect x="369.7" y="144.6" width="2.2" height="5.5" rx="0.8" fill="#8a8a8a" opacity="0.85"/>
<rect x="372.8" y="143.2" width="2.2" height="5.7" rx="0.8" fill="#3a3a3a" opacity="0.85"/>
<rect x="374.2" y="141.4" width="1.8" height="6.9" rx="0.8" fill="#606060" opacity="0.85"/>
<rect x="375.5" y="142.7" width="1.8" height="4.7" rx="0.8" fill="#4a4a4a" opacity="0.85"/>
<rect x="376.9" y="140.4" width="1.4" height="5.3" rx="0.8" fill="#7a7a7a" opacity="0.85"/>
<rect x="448.1" y="112.2" width="1.7" height="4.5" rx="0.8" fill="#4a4a4a" opacity="0.85"/>
<rect x="449.2" y="112.3" width="2.1" height="4.0" rx="0.8" fill="#606060" opacity="0.85"/>
<rect x="450.1" y="110.5" width="2.2" height="5.5" rx="0.8" fill="#606060" opacity="0.85"/>
<rect x="451.4" y="110.0" width="1.4" height="5.7" rx="0.8" fill="#8a8a8a" opacity="0.85"/>
<rect x="453.8" y="111.2" width="1.9" height="3.9" rx="0.8" fill="#8a8a8a" opacity="0.85"/>
<rect x="456.4" y="108.2" width="2.1" height="6.3" rx="0.8" fill="#606060" opacity="0.85"/>
<rect x="457.7" y="105.3" width="1.4" height="8.9" rx="0.8" fill="#7a7a7a" opacity="0.85"/>
<rect x="459.0" y="109.2" width="1.5" height="4.7" rx="0.8" fill="#8a8a8a" opacity="0.85"/>
<rect x="460.3" y="108.9" width="2.4" height="4.7" rx="0.8" fill="#a0a0a0" opacity="0.85"/>
<rect x="461.8" y="108.8" width="2.2" height="4.4" rx="0.8" fill="#7a7a7a" opacity="0.85"/>
<rect x="464.3" y="104.6" width="1.1" height="8.1" rx="0.8" fill="#6a6a6a" opacity="0.85"/>
<rect x="465.3" y="106.3" width="1.4" height="6.2" rx="0.8" fill="#555" opacity="0.85"/>
<rect x="466.2" y="107.0" width="1.1" height="5.3" rx="0.8" fill="#606060" opacity="0.85"/>
<rect x="467.3" y="107.6" width="1.9" height="4.4" rx="0.8" fill="#555" opacity="0.85"/>
<rect x="468.6" y="106.9" width="1.5" height="4.9" rx="0.8" fill="#3a3a3a" opacity="0.85"/>
<rect x="469.8" y="104.9" width="2.1" height="6.7" rx="0.8" fill="#7a7a7a" opacity="0.85"/>
<rect x="471.1" y="107.4" width="2.2" height="3.9" rx="0.8" fill="#555" opacity="0.85"/>
<rect x="472.4" y="107.3" width="1.0" height="3.7" rx="0.8" fill="#8a8a8a" opacity="0.85"/>
<rect x="473.7" y="106.6" width="1.8" height="4.2" rx="0.8" fill="#6a6a6a" opacity="0.85"/>
<rect x="474.7" y="104.9" width="1.7" height="5.7" rx="0.8" fill="#6a6a6a" opacity="0.85"/>
<rect x="475.6" y="106.0" width="1.2" height="4.4" rx="0.8" fill="#3a3a3a" opacity="0.85"/>
<rect x="477.1" y="100.9" width="1.5" height="9.2" rx="0.8" fill="#3a3a3a" opacity="0.85"/>
<rect x="478.7" y="105.9" width="1.5" height="3.8" rx="0.8" fill="#606060" opacity="0.85"/>
<rect x="480.2" y="105.5" width="2.1" height="4.0" rx="0.8" fill="#606060" opacity="0.85"/>
<rect x="481.5" y="102.9" width="2.3" height="6.4" rx="0.8" fill="#6a6a6a" opacity="0.85"/>
<rect x="482.7" y="104.7" width="2.4" height="4.5" rx="0.8" fill="#606060" opacity="0.85"/>
<rect x="483.8" y="103.2" width="2.1" height="5.8" rx="0.8" fill="#6a6a6a" opacity="0.85"/>
<rect x="485.0" y="105.1" width="1.4" height="3.8" rx="0.8" fill="#606060" opacity="0.85"/>
<rect x="485.9" y="104.8" width="2.1" height="4.0" rx="0.8" fill="#3a3a3a" opacity="0.85"/>
<rect x="487.0" y="102.7" width="2.4" height="5.9" rx="0.8" fill="#8a8a8a" opacity="0.85"/>
<rect x="488.5" y="104.3" width="1.2" height="4.0" rx="0.8" fill="#a0a0a0" opacity="0.85"/>
<rect x="489.8" y="103.5" width="2.1" height="4.7" rx="0.8" fill="#6a6a6a" opacity="0.85"/>
<rect x="491.1" y="104.4" width="1.9" height="3.6" rx="0.8" fill="#3a3a3a" opacity="0.85"/>
<rect x="492.2" y="101.9" width="1.8" height="6.0" rx="0.8" fill="#4a4a4a" opacity="0.85"/>
<rect x="493.3" y="104.2" width="2.3" height="3.6" rx="0.8" fill="#7a7a7a" opacity="0.85"/>
<rect x="496.0" y="103.2" width="1.3" height="4.2" rx="0.8" fill="#7a7a7a" opacity="0.85"/>
<rect x="497.1" y="102.1" width="1.1" height="5.1" rx="0.8" fill="#8a8a8a" opacity="0.85"/>
<rect x="500.0" y="102.5" width="1.3" height="4.4" rx="0.8" fill="#606060" opacity="0.85"/>
<rect x="501.1" y="102.6" width="2.1" height="4.1" rx="0.8" fill="#606060" opacity="0.85"/>
<rect x="502.0" y="101.5" width="2.1" height="5.1" rx="0.8" fill="#8a8a8a" opacity="0.85"/>
<rect x="503.5" y="102.4" width="1.7" height="4.0" rx="0.8" fill="#6a6a6a" opacity="0.85"/>
<rect x="504.3" y="102.3" width="2.0" height="4.0" rx="0.8" fill="#3a3a3a" opacity="0.85"/>
<rect x="506.8" y="98.2" width="2.4" height="7.8" rx="0.8" fill="#555" opacity="0.85"/>
<rect x="507.7" y="101.6" width="2.3" height="4.2" rx="0.8" fill="#3a3a3a" opacity="0.85"/>
<rect x="508.8" y="97.6" width="2.2" height="8.1" rx="0.8" fill="#4a4a4a" opacity="0.85"/>
<rect x="510.1" y="101.4" width="1.5" height="4.1" rx="0.8" fill="#7a7a7a" opacity="0.85"/>
<rect x="512.7" y="101.2" width="1.8" height="3.9" rx="0.8" fill="#3a3a3a" opacity="0.85"/>
<rect x="513.9" y="100.4" width="1.9" height="4.5" rx="0.8" fill="#a0a0a0" opacity="0.85"/>
<rect x="516.3" y="100.6" width="1.6" height="3.8" rx="0.8" fill="#7a7a7a" opacity="0.85"/>
<rect x="518.9" y="96.5" width="1.8" height="7.6" rx="0.8" fill="#6a6a6a" opacity="0.85"/>
<rect x="520.5" y="97.3" width="2.2" height="6.5" rx="0.8" fill="#6a6a6a" opacity="0.85"/>
<rect x="522.0" y="95.7" width="1.6" height="7.8" rx="0.8" fill="#7a7a7a" opacity="0.85"/>
<rect x="523.9" y="97.6" width="2.2" height="5.6" rx="0.8" fill="#6a6a6a" opacity="0.85"/>
<rect x="526.7" y="96.5" width="2.0" height="6.2" rx="0.8" fill="#606060" opacity="0.85"/>
<rect x="528.0" y="98.6" width="1.9" height="3.9" rx="0.8" fill="#7a7a7a" opacity="0.85"/>
<rect x="530.0" y="94.4" width="2.3" height="7.8" rx="0.8" fill="#6a6a6a" opacity="0.85"/>
<rect x="531.6" y="97.6" width="1.4" height="4.3" rx="0.8" fill="#6a6a6a" opacity="0.85"/>
<rect x="532.7" y="92.2" width="1.1" height="9.5" rx="0.8" fill="#a0a0a0" opacity="0.85"/>
<rect x="535.0" y="95.0" width="2.2" height="6.4" rx="0.8" fill="#4a4a4a" opacity="0.85"/>
<rect x="536.3" y="97.1" width="2.1" height="4.0" rx="0.8" fill="#3a3a3a" opacity="0.85"/>
<rect x="537.3" y="95.7" width="2.0" height="5.2" rx="0.8" fill="#4a4a4a" opacity="0.85"/>
<rect x="538.6" y="87.9" width="1.2" height="12.9" rx="0.8" fill="#3a3a3a" opacity="0.85"/>
<rect x="539.9" y="95.7" width="1.6" height="4.8" rx="0.8" fill="#8a8a8a" opacity="0.85"/>
<rect x="541.1" y="92.4" width="1.4" height="7.9" rx="0.8" fill="#7a7a7a" opacity="0.85"/>
<rect x="542.0" y="92.2" width="1.3" height="8.0" rx="0.8" fill="#a0a0a0" opacity="0.85"/>
<rect x="543.2" y="95.8" width="1.0" height="4.1" rx="0.8" fill="#7a7a7a" opacity="0.85"/>
<rect x="544.5" y="95.6" width="1.9" height="4.2" rx="0.8" fill="#a0a0a0" opacity="0.85"/>
<rect x="545.7" y="95.4" width="2.1" height="4.1" rx="0.8" fill="#4a4a4a" opacity="0.85"/>
<rect x="547.6" y="94.1" width="1.3" height="5.1" rx="0.8" fill="#a0a0a0" opacity="0.85"/>
<rect x="549.0" y="91.4" width="1.1" height="7.5" rx="0.8" fill="#a0a0a0" opacity="0.85"/>
<rect x="549.8" y="93.2" width="1.2" height="5.6" rx="0.8" fill="#555" opacity="0.85"/>
<rect x="550.8" y="94.6" width="2.2" height="4.0" rx="0.8" fill="#606060" opacity="0.85"/>
<rect x="551.9" y="94.2" width="1.1" height="4.2" rx="0.8" fill="#555" opacity="0.85"/>
<rect x="553.1" y="90.7" width="1.5" height="7.6" rx="0.8" fill="#3a3a3a" opacity="0.85"/>
<rect x="553.9" y="89.2" width="1.0" height="8.9" rx="0.8" fill="#6a6a6a" opacity="0.85"/>
<rect x="555.1" y="93.8" width="1.0" height="4.1" rx="0.8" fill="#6a6a6a" opacity="0.85"/>
<rect x="556.4" y="88.7" width="2.3" height="8.9" rx="0.8" fill="#555" opacity="0.85"/>
<rect x="557.8" y="90.5" width="2.0" height="6.9" rx="0.8" fill="#a0a0a0" opacity="0.85"/>
<rect x="559.2" y="92.5" width="1.7" height="4.6" rx="0.8" fill="#8a8a8a" opacity="0.85"/>
<rect x="560.6" y="87.9" width="2.0" height="9.0" rx="0.8" fill="#555" opacity="0.85"/>
<rect x="561.9" y="91.9" width="2.1" height="4.8" rx="0.8" fill="#6a6a6a" opacity="0.85"/>
<rect x="563.3" y="89.7" width="2.3" height="6.8" rx="0.8" fill="#4a4a4a" opacity="0.85"/>
<rect x="564.7" y="90.9" width="1.4" height="5.4" rx="0.8" fill="#8a8a8a" opacity="0.85"/>
<rect x="566.0" y="91.3" width="1.9" height="4.7" rx="0.8" fill="#555" opacity="0.85"/>
<rect x="567.0" y="90.0" width="2.0" height="5.9" rx="0.8" fill="#4a4a4a" opacity="0.85"/>
<rect x="568.2" y="91.4" width="1.3" height="4.2" rx="0.8" fill="#8a8a8a" opacity="0.85"/>
<rect x="569.6" y="87.0" width="1.0" height="8.4" rx="0.8" fill="#3a3a3a" opacity="0.85"/>
<rect x="571.2" y="88.3" width="1.4" height="6.8" rx="0.8" fill="#4a4a4a" opacity="0.85"/>
<rect x="572.5" y="88.6" width="1.2" height="6.3" rx="0.8" fill="#606060" opacity="0.85"/>
<rect x="575.1" y="88.0" width="1.8" height="6.4" rx="0.8" fill="#a0a0a0" opacity="0.85"/>
<rect x="578.7" y="89.4" width="1.8" height="4.2" rx="0.8" fill="#4a4a4a" opacity="0.85"/>
<rect x="579.9" y="89.2" width="2.3" height="4.0" rx="0.8" fill="#7a7a7a" opacity="0.85"/>
<rect x="580.9" y="83.1" width="2.3" height="9.9" rx="0.8" fill="#3a3a3a" opacity="0.85"/>
<rect x="582.4" y="86.2" width="1.4" height="6.5" rx="0.8" fill="#606060" opacity="0.85"/>
<rect x="583.5" y="88.1" width="1.2" height="4.3" rx="0.8" fill="#8a8a8a" opacity="0.85"/>
<rect x="585.0" y="86.3" width="1.6" height="5.7" rx="0.8" fill="#8a8a8a" opacity="0.85"/>
<rect x="585.9" y="85.4" width="1.8" height="6.5" rx="0.8" fill="#3a3a3a" opacity="0.85"/>
<rect x="586.9" y="87.6" width="1.9" height="4.2" rx="0.8" fill="#606060" opacity="0.85"/>
<rect x="588.1" y="86.8" width="2.0" height="5.0" rx="0.8" fill="#555" opacity="0.85"/>
<rect x="589.4" y="87.5" width="1.7" height="4.2" rx="0.8" fill="#4a4a4a" opacity="0.85"/>
<rect x="590.5" y="85.8" width="1.0" height="5.9" rx="0.8" fill="#4a4a4a" opacity="0.85"/>
<rect x="591.4" y="84.9" width="2.2" height="6.7" rx="0.8" fill="#606060" opacity="0.85"/>
</g>
<polyline points="103.0,186.9 120.0,185.8 140.0,185.2 160.0,183.5 180.0,182.7 200.0,182.4 215.0,183.2 222.0,183.5 226.0,185.5 232.0,186.0 237.0,185.2" fill="none" stroke="#0d0d0d" stroke-width="2.4" stroke-linejoin="round"/>
<polyline points="237.0,185.3 242.0,181.1 245.0,177.3 248.0,172.8 250.0,170.6 254.0,172.3 258.0,173.3 262.0,173.5" fill="none" stroke="#2a2a2a" stroke-width="1.7" stroke-linejoin="round"/>
<g filter="url(#soft2)">
<polyline points="375.0,145.8 380.0,139.8 384.0,135.8 390.0,133.8 400.0,130.8 410.0,126.8 420.0,123.3 430.0,120.4 440.0,117.3 450.0,113.8 465.0,110.3 480.0,107.3 495.0,105.3 510.0,103.3 525.0,100.8" fill="none" stroke="#333" stroke-width="1.8" stroke-linejoin="round"/>
<polyline points="380.0,142.5 384.0,138.5 390.0,136.5 400.0,133.5 410.0,129.5 420.0,126.0 430.0,123.1 440.0,120.0 450.0,116.5 465.0,113.0 480.0,110.0 495.0,108.0 510.0,106.0" fill="none" stroke="#4a4a4a" stroke-width="1.4" />
</g>
<line x1="103" y1="63.3" x2="103" y2="239.6" stroke="#8a8a8a" stroke-width="1.6"/>
<line x1="593" y1="63.3" x2="593" y2="239.6" stroke="#8a8a8a" stroke-width="1.6"/>
<line x1="104" y1="73.4" x2="593" y2="73.4" stroke="#000" stroke-opacity="0.38" stroke-width="1"/>
<line x1="104" y1="125.2" x2="593" y2="125.2" stroke="#000" stroke-opacity="0.38" stroke-width="1"/>
<line x1="104" y1="177.4" x2="593" y2="177.4" stroke="#000" stroke-opacity="0.38" stroke-width="1"/>
<line x1="104" y1="229.5" x2="593" y2="229.5" stroke="#000" stroke-opacity="0.38" stroke-width="1"/>
<line x1="102.5" y1="239.6" x2="593.5" y2="239.6" stroke="#555" stroke-width="1.4"/>
<text x="88.3" y="58.6" class="pl">A</text>
<text x="104.8" y="59.7" class="lb">North</text>
<text x="590.8" y="58.9" class="lb" text-anchor="end">South</text>
<text x="106.3" y="72.6" class="ax">400</text>
<text x="106.3" y="124.4" class="ax">500</text>
<text x="106.3" y="176.4" class="ax">600</text>
<text x="106.3" y="228.6" class="ax">700</text>
<text x="590.8" y="72.6" class="ax" text-anchor="end">300</text>
<text x="590.8" y="124.4" class="ax" text-anchor="end">375</text>
<text x="590.8" y="176.4" class="ax" text-anchor="end">450</text>
<text x="590.8" y="228.6" class="ax" text-anchor="end">525</text>
<text transform="translate(95.4 147.7) rotate(-90)" class="yl" text-anchor="middle">Two-way traveltime (msec)</text>
<text transform="translate(606.4 148.7) rotate(-90)" class="yl" text-anchor="middle">Depth (m)</text>
<text x="142.2" y="150.4" class="lb" style="font-size:13.6px;stroke-width:0.35px" textLength="135.4" lengthAdjust="spacing">Glacigenic Diamicton</text>
<text x="360.8" y="84" class="lb" textLength="86.9" lengthAdjust="spacing">Glacial erosion</text>
<line x1="191" y1="151" x2="160.7" y2="183.1" stroke="#111" stroke-width="1.5"/>
<polygon points="155.5,188.5 158.9,180.0 163.8,184.7" fill="#111"/>
<line x1="363.3" y1="88.7" x2="344.9" y2="115.1" stroke="#111" stroke-width="1.5"/>
<polygon points="340.6,121.3 342.7,112.4 348.2,116.3" fill="#111"/>
<line x1="443.4" y1="87.3" x2="461.0" y2="95.1" stroke="#111" stroke-width="1.5"/>
<polygon points="467.8,98.2 458.7,97.8 461.4,91.6" fill="#111"/>
<rect x="323.3" y="208.9" width="103" height="4.400000000000006" fill="#fff" stroke="#333" stroke-width="1"/>
<rect x="426.3" y="208.5" width="104.3" height="5.2000000000000055" fill="#000"/>
<text x="324" y="224" class="sb" text-anchor="middle">0</text>
<text x="426.6" y="224" class="sb" text-anchor="middle">5</text>
<text x="527.3" y="224" class="sb2">10 km</text>
<g clip-path="url(#cB)"><g filter="url(#soft)">
<rect x="103" y="300" width="490" height="142" fill="#8d8d8d"/>
<polygon points="103.0,371.9 106.0,370.9 109.0,369.9 112.0,370.1 115.0,369.2 118.0,367.4 121.0,367.3 124.0,367.2 127.0,367.2 130.0,367.1 133.0,368.4 136.0,367.7 139.0,367.0 142.0,366.9 145.0,366.9 148.0,366.8 151.0,366.8 154.0,366.9 157.0,367.1 160.0,367.2 163.0,367.4 166.0,369.6 169.0,367.9 172.0,367.1 175.0,366.7 178.0,366.3 181.0,366.1 184.0,366.5 187.0,366.2 190.0,364.7 193.0,363.6 196.0,363.1 199.0,362.6 202.0,362.7 205.0,362.9 208.0,363.1 211.0,363.8 214.0,365.1 217.0,364.3 220.0,362.3 223.0,362.5 226.0,362.8 229.0,362.6 232.0,361.7 235.0,360.8 238.0,360.4 241.0,360.1 244.0,359.7 247.0,359.2 250.0,358.5 253.0,357.8 256.0,357.2 259.0,356.8 262.0,356.3 265.0,355.9 268.0,354.8 271.0,353.6 274.0,352.6 277.0,351.9 280.0,351.4 283.0,351.0 286.0,350.6 289.0,350.3 292.0,350.0 295.0,349.8 298.0,349.5 301.0,349.2 304.0,348.9 307.0,348.7 310.0,348.4 313.0,348.1 316.0,347.9 319.0,347.6 322.0,347.2 325.0,346.8 328.0,346.3 331.0,345.8 334.0,345.1 337.0,344.4 340.0,343.7 343.0,343.2 346.0,342.8 349.0,342.3 352.0,341.9 355.0,341.4 358.0,340.7 361.0,340.0 364.0,339.2 367.0,338.5 370.0,337.8 373.0,339.4 376.0,334.8 379.0,333.5 382.0,332.3 385.0,331.0 388.0,330.4 391.0,329.9 394.0,329.3 397.0,329.6 400.0,325.2 403.0,324.4 406.0,323.6 409.0,322.9 412.0,322.2 415.0,321.6 418.0,321.0 421.0,320.5 424.0,320.3 427.0,320.0 430.0,319.8 433.0,319.4 436.0,318.6 439.0,317.9 442.0,317.3 445.0,317.0 448.0,316.6 451.0,316.2 454.0,315.8 457.0,315.5 460.0,315.2 463.0,315.0 466.0,314.8 469.0,314.6 472.0,314.4 475.0,314.3 478.0,314.2 481.0,314.5 484.0,315.2 487.0,317.2 490.0,319.4 493.0,319.8 496.0,320.6 499.0,322.8 502.0,327.2 505.0,335.6 508.0,345.5 511.0,351.5 514.0,344.0 517.0,337.5 520.0,334.7 523.0,335.0 526.0,336.1 529.0,337.8 532.0,339.4 535.0,341.0 538.0,343.0 541.0,345.1 544.0,347.1 547.0,349.4 550.0,351.7 553.0,353.8 556.0,355.9 559.0,358.1 562.0,360.2 565.0,362.3 568.0,363.2 571.0,364.1 574.0,364.9 577.0,365.8 580.0,366.7 583.0,367.7 586.0,368.7 589.0,369.7 592.0,370.7 593.0,405.2 590.0,405.1 587.0,404.8 584.0,404.4 581.0,404.0 578.0,403.4 575.0,402.7 572.0,401.9 569.0,401.0 566.0,400.0 563.0,398.8 560.0,397.5 557.0,396.0 554.0,394.5 551.0,392.8 548.0,391.0 545.0,389.3 542.0,387.6 539.0,386.0 536.0,384.5 533.0,383.2 530.0,382.4 527.0,382.5 524.0,383.5 521.0,384.2 518.0,384.0 515.0,383.2 512.0,382.1 509.0,380.9 506.0,379.7 503.0,378.4 500.0,376.4 497.0,373.5 494.0,370.2 491.0,367.7 488.0,366.2 485.0,365.4 482.0,365.0 479.0,364.7 476.0,364.2 473.0,363.8 470.0,363.8 467.0,363.8 464.0,364.0 461.0,364.3 458.0,364.6 455.0,364.8 452.0,365.2 449.0,365.6 446.0,366.0 443.0,366.5 440.0,366.9 437.0,367.4 434.0,367.8 431.0,368.2 428.0,368.7 425.0,369.2 422.0,369.7 419.0,370.2 416.0,370.7 413.0,371.3 410.0,372.3 407.0,373.2 404.0,374.2 401.0,375.1 398.0,376.1 395.0,377.1 392.0,378.2 389.0,379.4 386.0,380.8 383.0,381.9 380.0,382.9 377.0,383.9 374.0,384.9 371.0,385.9 368.0,387.0 365.0,387.9 362.0,388.8 359.0,389.4 356.0,389.9 353.0,390.5 350.0,391.1 347.0,391.6 344.0,392.2 341.0,392.8 338.0,393.3 335.0,393.8 332.0,394.4 329.0,394.9 326.0,395.4 323.0,395.8 320.0,396.3 317.0,396.6 314.0,397.0 311.0,397.3 308.0,397.6 305.0,397.9 302.0,398.1 299.0,398.4 296.0,398.7 293.0,399.0 290.0,399.3 287.0,399.7 284.0,400.1 281.0,400.7 278.0,401.3 275.0,401.9 272.0,402.6 269.0,403.3 266.0,404.0 263.0,404.7 260.0,405.4 257.0,406.1 254.0,406.7 251.0,407.3 248.0,407.7 245.0,407.9 242.0,408.2 239.0,408.4 236.0,408.6 233.0,408.6 230.0,408.8 227.0,409.0 224.0,409.1 221.0,409.0 218.0,408.8 215.0,408.6 212.0,408.2 209.0,408.0 206.0,407.7 203.0,407.6 200.0,407.4 197.0,407.2 194.0,407.2 191.0,407.2 188.0,407.3 185.0,407.4 182.0,407.6 179.0,407.9 176.0,408.0 173.0,407.8 170.0,407.6 167.0,407.3 164.0,407.0 161.0,406.7 158.0,406.4 155.0,406.0 152.0,405.6 149.0,405.1 146.0,404.9 143.0,404.6 140.0,404.3 137.0,404.0 134.0,403.7 131.0,403.4 128.0,403.4 125.0,403.3 122.0,403.3 119.0,403.3 116.0,403.3 113.0,403.5 110.0,403.6 107.0,403.8 104.0,403.9" fill="#9a9a9a"/>
<polyline points="103.0,375.5 106.0,375.0 109.0,374.5 112.0,373.5 115.0,372.8 118.0,372.1 121.0,371.4 124.0,371.1 127.0,371.2 130.0,371.4 133.0,371.4 136.0,371.3 139.0,371.1 142.0,370.7 145.0,370.6 148.0,370.6 151.0,370.6 154.0,370.7 157.0,370.9 160.0,371.4 163.0,371.8 166.0,371.9 169.0,371.8 172.0,371.5 175.0,370.8 178.0,370.6 181.0,370.5 184.0,370.2 187.0,369.7 190.0,369.0 193.0,368.2 196.0,367.5 199.0,367.2 202.0,367.1 205.0,367.2 208.0,367.7 211.0,368.2 214.0,368.1 217.0,367.9 220.0,367.5 223.0,366.9 226.0,366.5 229.0,366.2 232.0,365.7 235.0,365.0 238.0,364.4 241.0,363.9 244.0,363.4 247.0,362.9 250.0,362.3 253.0,361.7 256.0,361.1 259.0,360.6 262.0,360.0 265.0,359.3 268.0,358.4 271.0,357.5 274.0,356.6 277.0,355.9 280.0,355.3 283.0,355.0 286.0,354.6 289.0,354.3 292.0,354.1 295.0,353.8 298.0,353.6 301.0,353.3 304.0,353.1 307.0,352.9 310.0,352.6 313.0,352.4 316.0,352.1 319.0,351.8 322.0,351.4 325.0,351.0 328.0,350.5 331.0,349.9 334.0,349.2 337.0,348.6 340.0,347.9 343.0,347.4 346.0,346.8 349.0,346.3 352.0,345.8 355.0,345.2 358.0,344.5 361.0,343.8 364.0,343.1 367.0,342.7 370.0,341.9 373.0,340.7 376.0,339.4 379.0,337.8 382.0,336.1 385.0,335.1 388.0,334.3 391.0,333.8 394.0,333.0 397.0,331.8 400.0,330.5 403.0,329.1 406.0,327.6 409.0,326.9 412.0,326.3 415.0,325.7 418.0,325.2 421.0,324.8 424.0,324.5 427.0,324.2 430.0,323.9 433.0,323.4 436.0,322.8 439.0,322.2 442.0,321.7 445.0,321.2 448.0,320.8 451.0,320.4 454.0,320.0 457.0,319.7 460.0,319.4 463.0,319.1 466.0,318.8 469.0,318.6 472.0,318.4 475.0,318.3 478.0,318.4 481.0,318.8 484.0,319.8 487.0,321.0 490.0,322.2 493.0,323.6 496.0,325.4 499.0,328.3 502.0,333.4 505.0,340.2 508.0,345.4 511.0,347.7 514.0,346.9 517.0,343.8 520.0,340.7 523.0,339.8 526.0,340.4 529.0,341.8 532.0,343.5 535.0,345.3 538.0,347.2 541.0,349.3 544.0,351.4 547.0,353.6 550.0,355.8 553.0,358.0 556.0,360.2 559.0,362.3 562.0,364.2 565.0,365.9 568.0,367.2 571.0,368.3 574.0,369.1 577.0,370.0 580.0,370.9 583.0,371.8 586.0,372.7 589.0,373.6 592.0,374.2" fill="none" stroke="#dadada" stroke-width="1.57" opacity="0.85"/>
<polyline points="103.0,377.8 106.0,377.3 109.0,376.9 112.0,376.1 115.0,375.4 118.0,374.9 121.0,374.2 124.0,374.0 127.0,374.1 130.0,374.3 133.0,374.3 136.0,374.3 139.0,374.2 142.0,373.9 145.0,373.8 148.0,373.8 151.0,373.8 154.0,373.9 157.0,374.0 160.0,374.5 163.0,374.8 166.0,374.8 169.0,374.6 172.0,374.2 175.0,373.6 178.0,373.3 181.0,373.1 184.0,372.7 187.0,372.1 190.0,371.4 193.0,370.6 196.0,369.9 199.0,369.5 202.0,369.4 205.0,369.5 208.0,369.9 211.0,370.3 214.0,370.3 217.0,370.1 220.0,369.8 223.0,369.3 226.0,368.9 229.0,368.7 232.0,368.2 235.0,367.6 238.0,367.1 241.0,366.7 244.0,366.3 247.0,365.8 250.0,365.2 253.0,364.7 256.0,364.2 259.0,363.7 262.0,363.1 265.0,362.4 268.0,361.6 271.0,360.6 274.0,359.8 277.0,359.0 280.0,358.4 283.0,358.0 286.0,357.6 289.0,357.2 292.0,356.9 295.0,356.6 298.0,356.3 301.0,355.9 304.0,355.6 307.0,355.3 310.0,355.0 313.0,354.7 316.0,354.4 319.0,354.0 322.0,353.6 325.0,353.2 328.0,352.7 331.0,352.1 334.0,351.5 337.0,350.9 340.0,350.3 343.0,349.7 346.0,349.3 349.0,348.8 352.0,348.3 355.0,347.8 358.0,347.2 361.0,346.6 364.0,345.9 367.0,345.5 370.0,344.8 373.0,343.7 376.0,342.4 379.0,340.9 382.0,339.3 385.0,338.4 388.0,337.5 391.0,336.8 394.0,336.0 397.0,334.8 400.0,333.5 403.0,332.1 406.0,330.6 409.0,329.9 412.0,329.1 415.0,328.4 418.0,327.9 421.0,327.4 424.0,327.0 427.0,326.6 430.0,326.2 433.0,325.7 436.0,325.1 439.0,324.5 442.0,323.9 445.0,323.5 448.0,323.0 451.0,322.7 454.0,322.3 457.0,322.0 460.0,321.7 463.0,321.5 466.0,321.3 469.0,321.1 472.0,321.0 475.0,321.0 478.0,321.2 481.0,321.7 484.0,322.7 487.0,324.0 490.0,325.3 493.0,326.9 496.0,328.9 499.0,331.9 502.0,336.8 505.0,343.0 508.0,347.8 511.0,350.0 514.0,349.5 517.0,346.8 520.0,344.1 523.0,343.2 526.0,343.6 529.0,344.8 532.0,346.3 535.0,348.1 538.0,349.9 541.0,351.8 544.0,353.9 547.0,356.0 550.0,358.2 553.0,360.3 556.0,362.4 559.0,364.5 562.0,366.4 565.0,368.0 568.0,369.3 571.0,370.4 574.0,371.4 577.0,372.3 580.0,373.2 583.0,374.2 586.0,375.1 589.0,376.0 592.0,376.8" fill="none" stroke="#606060" stroke-width="1.42" opacity="0.85"/>
<polyline points="103.0,380.7 106.0,380.2 109.0,379.8 112.0,379.0 115.0,378.3 118.0,377.7 121.0,377.1 124.0,376.8 127.0,376.8 130.0,376.9 133.0,376.8 136.0,376.8 139.0,376.6 142.0,376.2 145.0,376.1 148.0,376.0 151.0,376.0 154.0,376.1 157.0,376.1 160.0,376.5 163.0,376.8 166.0,376.7 169.0,376.6 172.0,376.3 175.0,375.7 178.0,375.5 181.0,375.3 184.0,374.9 187.0,374.4 190.0,373.8 193.0,373.1 196.0,372.5 199.0,372.2 202.0,372.2 205.0,372.3 208.0,372.7 211.0,373.1 214.0,373.1 217.0,373.0 220.0,372.7 223.0,372.2 226.0,371.9 229.0,371.6 232.0,371.1 235.0,370.5 238.0,370.0 241.0,369.5 244.0,369.0 247.0,368.4 250.0,367.8 253.0,367.2 256.0,366.6 259.0,366.0 262.0,365.4 265.0,364.6 268.0,363.7 271.0,362.8 274.0,361.9 277.0,361.2 280.0,360.5 283.0,360.1 286.0,359.7 289.0,359.3 292.0,359.0 295.0,358.7 298.0,358.4 301.0,358.2 304.0,357.9 307.0,357.7 310.0,357.4 313.0,357.2 316.0,356.9 319.0,356.6 322.0,356.3 325.0,355.9 328.0,355.5 331.0,355.0 334.0,354.4 337.0,353.8 340.0,353.2 343.0,352.7 346.0,352.2 349.0,351.7 352.0,351.2 355.0,350.7 358.0,350.0 361.0,349.4 364.0,348.6 367.0,348.1 370.0,347.3 373.0,346.1 376.0,344.8 379.0,343.3 382.0,341.7 385.0,340.7 388.0,339.7 391.0,338.9 394.0,338.1 397.0,336.8 400.0,335.5 403.0,334.2 406.0,332.8 409.0,332.0 412.0,331.3 415.0,330.6 418.0,330.1 421.0,329.7 424.0,329.3 427.0,329.0 430.0,328.6 433.0,328.2 436.0,327.7 439.0,327.2 442.0,326.7 445.0,326.3 448.0,325.9 451.0,325.5 454.0,325.2 457.0,324.9 460.0,324.7 463.0,324.5 466.0,324.2 469.0,324.1 472.0,324.0 475.0,323.9 478.0,324.1 481.0,324.5 484.0,325.5 487.0,326.6 490.0,327.9 493.0,329.6 496.0,331.6 499.0,334.7 502.0,339.2 505.0,344.9 508.0,349.3 511.0,351.4 514.0,351.0 517.0,348.8 520.0,346.5 523.0,345.7 526.0,346.0 529.0,347.0 532.0,348.5 535.0,350.3 538.0,352.1 541.0,354.1 544.0,356.3 547.0,358.4 550.0,360.7 553.0,362.9 556.0,365.0 559.0,367.1 562.0,369.0 565.0,370.7 568.0,372.1 571.0,373.3 574.0,374.3 577.0,375.2 580.0,376.2 583.0,377.1 586.0,378.0 589.0,378.9 592.0,379.6" fill="none" stroke="#bebebe" stroke-width="1.11" opacity="0.85"/>
<polyline points="103.0,382.9 106.0,382.4 109.0,381.9 112.0,381.1 115.0,380.5 118.0,379.9 121.0,379.3 124.0,379.0 127.0,379.0 130.0,379.1 133.0,379.0 136.0,379.0 139.0,378.9 142.0,378.6 145.0,378.6 148.0,378.5 151.0,378.6 154.0,378.7 157.0,378.9 160.0,379.3 163.0,379.5 166.0,379.6 169.0,379.5 172.0,379.3 175.0,378.8 178.0,378.5 181.0,378.3 184.0,377.9 187.0,377.4 190.0,376.8 193.0,376.1 196.0,375.4 199.0,375.1 202.0,375.0 205.0,375.0 208.0,375.3 211.0,375.6 214.0,375.5 217.0,375.4 220.0,375.0 223.0,374.5 226.0,374.1 229.0,373.7 232.0,373.2 235.0,372.6 238.0,372.1 241.0,371.6 244.0,371.1 247.0,370.5 250.0,370.0 253.0,369.4 256.0,368.9 259.0,368.3 262.0,367.7 265.0,367.0 268.0,366.2 271.0,365.4 274.0,364.6 277.0,363.9 280.0,363.4 283.0,362.9 286.0,362.6 289.0,362.3 292.0,362.0 295.0,361.7 298.0,361.5 301.0,361.2 304.0,360.9 307.0,360.7 310.0,360.4 313.0,360.1 316.0,359.8 319.0,359.4 322.0,359.0 325.0,358.6 328.0,358.1 331.0,357.5 334.0,356.8 337.0,356.2 340.0,355.6 343.0,355.0 346.0,354.4 349.0,353.9 352.0,353.4 355.0,352.8 358.0,352.1 361.0,351.5 364.0,350.7 367.0,350.2 370.0,349.3 373.0,348.2 376.0,347.0 379.0,345.6 382.0,344.2 385.0,343.3 388.0,342.3 391.0,341.5 394.0,340.7 397.0,339.5 400.0,338.3 403.0,337.1 406.0,335.8 409.0,335.0 412.0,334.3 415.0,333.6 418.0,333.1 421.0,332.7 424.0,332.3 427.0,332.0 430.0,331.6 433.0,331.1 436.0,330.5 439.0,330.0 442.0,329.4 445.0,328.9 448.0,328.5 451.0,328.1 454.0,327.7 457.0,327.3 460.0,327.0 463.0,326.7 466.0,326.5 469.0,326.3 472.0,326.1 475.0,326.1 478.0,326.3 481.0,326.8 484.0,327.7 487.0,328.8 490.0,330.2 493.0,332.0 496.0,334.3 499.0,337.4 502.0,341.8 505.0,347.0 508.0,351.2 511.0,353.2 514.0,353.2 517.0,351.5 520.0,349.6 523.0,349.0 526.0,349.2 529.0,350.2 532.0,351.6 535.0,353.3 538.0,355.2 541.0,357.2 544.0,359.3 547.0,361.4 550.0,363.6 553.0,365.7 556.0,367.8 559.0,369.8 562.0,371.7 565.0,373.3 568.0,374.6 571.0,375.7 574.0,376.7 577.0,377.6 580.0,378.5 583.0,379.3 586.0,380.2 589.0,381.0 592.0,381.6" fill="none" stroke="#505050" stroke-width="1.39" opacity="0.85"/>
<polyline points="103.0,385.5 106.0,385.1 109.0,384.7 112.0,384.0 115.0,383.4 118.0,382.9 121.0,382.4 124.0,382.1 127.0,382.1 130.0,382.2 133.0,382.1 136.0,382.1 139.0,382.0 142.0,381.8 145.0,381.7 148.0,381.6 151.0,381.6 154.0,381.7 157.0,381.8 160.0,382.1 163.0,382.2 166.0,382.2 169.0,382.1 172.0,381.8 175.0,381.3 178.0,380.9 181.0,380.6 184.0,380.1 187.0,379.6 190.0,379.0 193.0,378.3 196.0,377.7 199.0,377.5 202.0,377.4 205.0,377.4 208.0,377.6 211.0,377.9 214.0,377.9 217.0,377.8 220.0,377.6 223.0,377.2 226.0,376.8 229.0,376.5 232.0,376.0 235.0,375.5 238.0,375.1 241.0,374.6 244.0,374.1 247.0,373.6 250.0,373.1 253.0,372.6 256.0,372.0 259.0,371.4 262.0,370.8 265.0,370.1 268.0,369.3 271.0,368.4 274.0,367.6 277.0,366.9 280.0,366.2 283.0,365.7 286.0,365.2 289.0,364.9 292.0,364.5 295.0,364.2 298.0,363.8 301.0,363.5 304.0,363.2 307.0,362.9 310.0,362.6 313.0,362.3 316.0,362.0 319.0,361.7 322.0,361.3 325.0,360.8 328.0,360.4 331.0,359.8 334.0,359.3 337.0,358.7 340.0,358.2 343.0,357.7 346.0,357.2 349.0,356.7 352.0,356.2 355.0,355.7 358.0,355.1 361.0,354.5 364.0,353.8 367.0,353.2 370.0,352.4 373.0,351.3 376.0,350.1 379.0,348.8 382.0,347.4 385.0,346.4 388.0,345.3 391.0,344.4 394.0,343.5 397.0,342.3 400.0,341.1 403.0,339.8 406.0,338.5 409.0,337.7 412.0,336.8 415.0,336.1 418.0,335.5 421.0,335.1 424.0,334.6 427.0,334.2 430.0,333.8 433.0,333.3 436.0,332.8 439.0,332.2 442.0,331.7 445.0,331.2 448.0,330.8 451.0,330.5 454.0,330.1 457.0,329.9 460.0,329.6 463.0,329.4 466.0,329.2 469.0,329.1 472.0,329.0 475.0,329.1 478.0,329.4 481.0,329.9 484.0,330.9 487.0,332.0 490.0,333.4 493.0,335.3 496.0,337.8 499.0,341.0 502.0,345.1 505.0,349.8 508.0,353.5 511.0,355.4 514.0,355.6 517.0,354.3 520.0,352.7 523.0,352.1 526.0,352.1 529.0,352.9 532.0,354.1 535.0,355.8 538.0,357.6 541.0,359.5 544.0,361.6 547.0,363.7 550.0,365.8 553.0,367.9 556.0,370.0 559.0,372.0 562.0,373.9 565.0,375.5 568.0,376.9 571.0,378.1 574.0,379.1 577.0,380.1 580.0,381.1 583.0,382.0 586.0,382.9 589.0,383.8 592.0,384.5" fill="none" stroke="#bebebe" stroke-width="1.07" opacity="0.85"/>
<polyline points="103.0,388.6 106.0,388.1 109.0,387.6 112.0,386.9 115.0,386.2 118.0,385.7 121.0,385.2 124.0,384.9 127.0,384.7 130.0,384.6 133.0,384.5 136.0,384.4 139.0,384.3 142.0,384.1 145.0,384.0 148.0,383.9 151.0,383.9 154.0,384.0 157.0,384.1 160.0,384.4 163.0,384.5 166.0,384.5 169.0,384.5 172.0,384.3 175.0,383.9 178.0,383.7 181.0,383.4 184.0,382.9 187.0,382.5 190.0,382.0 193.0,381.4 196.0,380.9 199.0,380.7 202.0,380.6 205.0,380.6 208.0,380.8 211.0,381.0 214.0,381.0 217.0,380.9 220.0,380.7 223.0,380.2 226.0,379.9 229.0,379.5 232.0,378.9 235.0,378.4 238.0,377.8 241.0,377.3 244.0,376.7 247.0,376.2 250.0,375.6 253.0,375.0 256.0,374.4 259.0,373.7 262.0,373.1 265.0,372.3 268.0,371.5 271.0,370.7 274.0,369.9 277.0,369.2 280.0,368.6 283.0,368.1 286.0,367.7 289.0,367.4 292.0,367.1 295.0,366.8 298.0,366.6 301.0,366.3 304.0,366.1 307.0,365.9 310.0,365.6 313.0,365.4 316.0,365.1 319.0,364.8 322.0,364.4 325.0,364.0 328.0,363.5 331.0,363.0 334.0,362.5 337.0,361.9 340.0,361.3 343.0,360.7 346.0,360.2 349.0,359.6 352.0,359.1 355.0,358.5 358.0,357.9 361.0,357.2 364.0,356.4 367.0,355.7 370.0,354.8 373.0,353.6 376.0,352.4 379.0,351.1 382.0,349.8 385.0,348.8 388.0,347.6 391.0,346.7 394.0,345.7 397.0,344.6 400.0,343.4 403.0,342.3 406.0,341.1 409.0,340.3 412.0,339.5 415.0,338.8 418.0,338.3 421.0,337.9 424.0,337.5 427.0,337.1 430.0,336.8 433.0,336.3 436.0,335.9 439.0,335.4 442.0,334.9 445.0,334.5 448.0,334.1 451.0,333.7 454.0,333.3 457.0,333.0 460.0,332.7 463.0,332.5 466.0,332.2 469.0,332.0 472.0,332.0 475.0,332.0 478.0,332.3 481.0,332.7 484.0,333.5 487.0,334.6 490.0,336.0 493.0,337.9 496.0,340.6 499.0,343.8 502.0,347.6 505.0,351.7 508.0,355.0 511.0,356.9 514.0,357.3 517.0,356.5 520.0,355.5 523.0,355.0 526.0,354.9 529.0,355.5 532.0,356.8 535.0,358.5 538.0,360.4 541.0,362.4 544.0,364.5 547.0,366.7 550.0,368.8 553.0,371.0 556.0,373.1 559.0,375.1 562.0,377.0 565.0,378.6 568.0,380.0 571.0,381.2 574.0,382.3 577.0,383.3 580.0,384.2 583.0,385.1 586.0,385.9 589.0,386.7 592.0,387.3" fill="none" stroke="#606060" stroke-width="1.31" opacity="0.85"/>
<polyline points="103.0,390.3 106.0,389.8 109.0,389.3 112.0,388.7 115.0,388.1 118.0,387.5 121.0,387.1 124.0,386.8 127.0,386.7 130.0,386.6 133.0,386.6 136.0,386.5 139.0,386.5 142.0,386.4 145.0,386.3 148.0,386.3 151.0,386.4 154.0,386.6 157.0,386.7 160.0,386.9 163.0,387.1 166.0,387.1 169.0,387.0 172.0,386.8 175.0,386.5 178.0,386.2 181.0,385.8 184.0,385.3 187.0,384.8 190.0,384.3 193.0,383.7 196.0,383.2 199.0,382.9 202.0,382.7 205.0,382.7 208.0,382.7 211.0,382.8 214.0,382.8 217.0,382.7 220.0,382.4 223.0,382.0 226.0,381.6 229.0,381.2 232.0,380.7 235.0,380.2 238.0,379.7 241.0,379.2 244.0,378.6 247.0,378.1 250.0,377.6 253.0,377.1 256.0,376.5 259.0,375.9 262.0,375.3 265.0,374.6 268.0,373.9 271.0,373.1 274.0,372.4 277.0,371.8 280.0,371.2 283.0,370.7 286.0,370.3 289.0,370.0 292.0,369.7 295.0,369.4 298.0,369.1 301.0,368.8 304.0,368.5 307.0,368.2 310.0,367.9 313.0,367.6 316.0,367.3 319.0,366.9 322.0,366.5 325.0,366.0 328.0,365.5 331.0,364.9 334.0,364.3 337.0,363.7 340.0,363.1 343.0,362.5 346.0,361.9 349.0,361.4 352.0,360.8 355.0,360.2 358.0,359.7 361.0,359.1 364.0,358.3 367.0,357.6 370.0,356.7 373.0,355.7 376.0,354.6 379.0,353.4 382.0,352.1 385.0,351.2 388.0,350.1 391.0,349.1 394.0,348.2 397.0,347.1 400.0,346.0 403.0,344.9 406.0,343.7 409.0,342.9 412.0,342.1 415.0,341.4 418.0,340.8 421.0,340.4 424.0,339.9 427.0,339.5 430.0,339.0 433.0,338.5 436.0,338.0 439.0,337.5 442.0,337.0 445.0,336.5 448.0,336.0 451.0,335.6 454.0,335.2 457.0,334.8 460.0,334.5 463.0,334.2 466.0,334.0 469.0,333.8 472.0,333.8 475.0,333.9 478.0,334.2 481.0,334.7 484.0,335.5 487.0,336.6 490.0,338.1 493.0,340.2 496.0,343.1 499.0,346.4 502.0,350.0 505.0,353.8 508.0,356.8 511.0,358.7 514.0,359.3 517.0,359.0 520.0,358.3 523.0,357.9 526.0,357.8 529.0,358.2 532.0,359.4 535.0,361.1 538.0,362.9 541.0,364.9 544.0,366.9 547.0,369.0 550.0,371.1 553.0,373.2 556.0,375.2 559.0,377.2 562.0,378.9 565.0,380.5 568.0,381.9 571.0,383.0 574.0,384.1 577.0,385.1 580.0,386.0 583.0,386.8 586.0,387.6 589.0,388.4 592.0,389.0" fill="none" stroke="#bebebe" stroke-width="1.26" opacity="0.85"/>
<polyline points="103.0,392.5 106.0,392.0 109.0,391.6 112.0,391.1 115.0,390.5 118.0,390.1 121.0,389.7 124.0,389.4 127.0,389.3 130.0,389.2 133.0,389.1 136.0,389.1 139.0,389.0 142.0,388.9 145.0,388.8 148.0,388.8 151.0,388.7 154.0,388.9 157.0,388.9 160.0,389.1 163.0,389.1 166.0,389.1 169.0,388.9 172.0,388.7 175.0,388.4 178.0,388.0 181.0,387.6 184.0,387.1 187.0,386.5 190.0,386.0 193.0,385.5 196.0,385.0 199.0,384.8 202.0,384.6 205.0,384.6 208.0,384.6 211.0,384.7 214.0,384.8 217.0,384.7 220.0,384.5 223.0,384.2 226.0,383.9 229.0,383.5 232.0,383.0 235.0,382.6 238.0,382.2 241.0,381.7 244.0,381.2 247.0,380.7 250.0,380.2 253.0,379.7 256.0,379.1 259.0,378.5 262.0,377.8 265.0,377.0 268.0,376.3 271.0,375.5 274.0,374.7 277.0,374.0 280.0,373.4 283.0,372.8 286.0,372.3 289.0,371.9 292.0,371.6 295.0,371.2 298.0,370.9 301.0,370.6 304.0,370.3 307.0,370.0 310.0,369.7 313.0,369.4 316.0,369.0 319.0,368.7 322.0,368.3 325.0,367.9 328.0,367.4 331.0,366.9 334.0,366.3 337.0,365.8 340.0,365.3 343.0,364.8 346.0,364.3 349.0,363.8 352.0,363.2 355.0,362.7 358.0,362.2 361.0,361.6 364.0,360.9 367.0,360.2 370.0,359.2 373.0,358.2 376.0,357.1 379.0,355.9 382.0,354.7 385.0,353.7 388.0,352.5 391.0,351.4 394.0,350.4 397.0,349.2 400.0,348.1 403.0,347.0 406.0,345.8 409.0,344.9 412.0,344.0 415.0,343.2 418.0,342.7 421.0,342.2 424.0,341.7 427.0,341.2 430.0,340.8 433.0,340.3 436.0,339.8 439.0,339.3 442.0,338.8 445.0,338.4 448.0,337.9 451.0,337.6 454.0,337.2 457.0,337.0 460.0,336.7 463.0,336.5 466.0,336.3 469.0,336.2 472.0,336.2 475.0,336.4 478.0,336.8 481.0,337.3 484.0,338.1 487.0,339.2 490.0,340.7 493.0,343.0 496.0,346.0 499.0,349.3 502.0,352.7 505.0,356.0 508.0,358.6 511.0,360.3 514.0,361.2 517.0,361.1 520.0,360.7 523.0,360.3 526.0,360.0 529.0,360.3 532.0,361.4 535.0,362.9 538.0,364.7 541.0,366.7 544.0,368.7 547.0,370.8 550.0,372.9 553.0,375.0 556.0,377.0 559.0,378.9 562.0,380.7 565.0,382.3 568.0,383.7 571.0,385.0 574.0,386.1 577.0,387.2 580.0,388.2 583.0,389.1 586.0,389.9 589.0,390.7 592.0,391.4" fill="none" stroke="#606060" stroke-width="1.25" opacity="0.85"/>
<polyline points="103.0,395.1 106.0,394.6 109.0,394.1 112.0,393.5 115.0,393.0 118.0,392.5 121.0,392.1 124.0,391.7 127.0,391.5 130.0,391.3 133.0,391.1 136.0,391.0 139.0,390.9 142.0,390.8 145.0,390.7 148.0,390.6 151.0,390.6 154.0,390.8 157.0,390.8 160.0,390.9 163.0,391.0 166.0,390.9 169.0,390.9 172.0,390.8 175.0,390.5 178.0,390.2 181.0,389.8 184.0,389.3 187.0,388.9 190.0,388.4 193.0,388.0 196.0,387.6 199.0,387.4 202.0,387.4 205.0,387.3 208.0,387.3 211.0,387.4 214.0,387.4 217.0,387.3 220.0,387.2 223.0,386.9 226.0,386.5 229.0,386.1 232.0,385.5 235.0,385.0 238.0,384.5 241.0,384.0 244.0,383.4 247.0,382.8 250.0,382.3 253.0,381.7 256.0,381.1 259.0,380.4 262.0,379.6 265.0,378.9 268.0,378.1 271.0,377.4 274.0,376.6 277.0,375.9 280.0,375.3 283.0,374.8 286.0,374.3 289.0,373.9 292.0,373.6 295.0,373.4 298.0,373.1 301.0,372.8 304.0,372.6 307.0,372.4 310.0,372.1 313.0,371.9 316.0,371.6 319.0,371.3 322.0,370.9 325.0,370.5 328.0,370.0 331.0,369.6 334.0,369.0 337.0,368.5 340.0,367.9 343.0,367.4 346.0,366.8 349.0,366.3 352.0,365.7 355.0,365.1 358.0,364.5 361.0,363.9 364.0,363.1 367.0,362.2 370.0,361.2 373.0,360.1 376.0,359.0 379.0,357.8 382.0,356.7 385.0,355.7 388.0,354.3 391.0,353.2 394.0,352.2 397.0,351.1 400.0,350.0 403.0,348.9 406.0,347.9 409.0,347.0 412.0,346.1 415.0,345.4 418.0,344.9 421.0,344.5 424.0,344.0 427.0,343.6 430.0,343.2 433.0,342.8 436.0,342.4 439.0,341.9 442.0,341.5 445.0,341.1 448.0,340.6 451.0,340.3 454.0,339.9 457.0,339.6 460.0,339.4 463.0,339.1 466.0,338.9 469.0,338.7 472.0,338.7 475.0,338.9 478.0,339.2 481.0,339.7 484.0,340.4 487.0,341.4 490.0,342.9 493.0,345.1 496.0,348.2 499.0,351.6 502.0,354.7 505.0,357.5 508.0,359.8 511.0,361.5 514.0,362.5 517.0,362.9 520.0,362.9 523.0,362.6 526.0,362.2 529.0,362.5 532.0,363.5 535.0,365.1 538.0,367.0 541.0,369.0 544.0,371.1 547.0,373.2 550.0,375.3 553.0,377.5 556.0,379.5 559.0,381.5 562.0,383.3 565.0,384.9 568.0,386.4 571.0,387.7 574.0,388.8 577.0,389.9 580.0,390.8 583.0,391.7 586.0,392.5 589.0,393.2 592.0,393.7" fill="none" stroke="#bebebe" stroke-width="1.41" opacity="0.85"/>
<polyline points="103.0,397.0 106.0,396.5 109.0,396.0 112.0,395.5 115.0,394.9 118.0,394.4 121.0,394.1 124.0,393.8 127.0,393.6 130.0,393.3 133.0,393.2 136.0,393.2 139.0,393.2 142.0,393.1 145.0,393.2 148.0,393.1 151.0,393.1 154.0,393.4 157.0,393.5 160.0,393.6 163.0,393.6 166.0,393.6 169.0,393.6 172.0,393.5 175.0,393.3 178.0,393.0 181.0,392.5 184.0,392.0 187.0,391.5 190.0,391.0 193.0,390.6 196.0,390.2 199.0,389.9 202.0,389.8 205.0,389.6 208.0,389.5 211.0,389.5 214.0,389.4 217.0,389.3 220.0,389.1 223.0,388.8 226.0,388.5 229.0,388.0 232.0,387.4 235.0,386.9 238.0,386.5 241.0,386.0 244.0,385.4 247.0,384.8 250.0,384.3 253.0,383.8 256.0,383.3 259.0,382.6 262.0,381.9 265.0,381.3 268.0,380.6 271.0,379.9 274.0,379.2 277.0,378.6 280.0,378.0 283.0,377.5 286.0,377.1 289.0,376.7 292.0,376.4 295.0,376.1 298.0,375.9 301.0,375.6 304.0,375.3 307.0,375.0 310.0,374.7 313.0,374.4 316.0,374.1 319.0,373.7 322.0,373.2 325.0,372.8 328.0,372.2 331.0,371.7 334.0,371.1 337.0,370.5 340.0,369.9 343.0,369.4 346.0,368.8 349.0,368.2 352.0,367.6 355.0,367.0 358.0,366.4 361.0,365.9 364.0,365.1 367.0,364.2 370.0,363.3 373.0,362.2 376.0,361.2 379.0,360.1 382.0,359.1 385.0,358.2 388.0,356.8 391.0,355.7 394.0,354.7 397.0,353.7 400.0,352.7 403.0,351.7 406.0,350.7 409.0,349.8 412.0,348.9 415.0,348.2 418.0,347.7 421.0,347.2 424.0,346.7 427.0,346.2 430.0,345.8 433.0,345.3 436.0,344.8 439.0,344.3 442.0,343.8 445.0,343.3 448.0,342.9 451.0,342.4 454.0,342.0 457.0,341.7 460.0,341.4 463.0,341.1 466.0,340.8 469.0,340.7 472.0,340.6 475.0,340.8 478.0,341.3 481.0,341.8 484.0,342.5 487.0,343.5 490.0,345.1 493.0,347.5 496.0,350.8 499.0,354.3 502.0,357.2 505.0,359.7 508.0,361.7 511.0,363.4 514.0,364.7 517.0,365.5 520.0,365.9 523.0,365.8 526.0,365.3 529.0,365.4 532.0,366.4 535.0,367.9 538.0,369.8 541.0,371.7 544.0,373.8 547.0,375.8 550.0,377.9 553.0,380.0 556.0,382.0 559.0,383.8 562.0,385.5 565.0,387.1 568.0,388.5 571.0,389.7 574.0,390.9 577.0,391.9 580.0,392.8 583.0,393.6 586.0,394.4 589.0,395.0 592.0,395.6" fill="none" stroke="#505050" stroke-width="1.52" opacity="0.85"/>
<polyline points="103.0,399.4 106.0,399.0 109.0,398.6 112.0,398.1 115.0,397.6 118.0,397.2 121.0,397.0 124.0,396.7 127.0,396.5 130.0,396.2 133.0,396.1 136.0,396.0 139.0,396.0 142.0,396.0 145.0,396.0 148.0,395.9 151.0,395.9 154.0,396.0 157.0,396.1 160.0,396.1 163.0,396.0 166.0,395.9 169.0,395.8 172.0,395.7 175.0,395.5 178.0,395.1 181.0,394.6 184.0,394.0 187.0,393.4 190.0,393.0 193.0,392.6 196.0,392.3 199.0,392.1 202.0,391.9 205.0,391.8 208.0,391.6 211.0,391.6 214.0,391.6 217.0,391.6 220.0,391.5 223.0,391.3 226.0,391.0 229.0,390.6 232.0,390.0 235.0,389.7 238.0,389.3 241.0,388.8 244.0,388.2 247.0,387.7 250.0,387.2 253.0,386.7 256.0,386.1 259.0,385.5 262.0,384.7 265.0,384.0 268.0,383.3 271.0,382.6 274.0,381.9 277.0,381.2 280.0,380.5 283.0,380.0 286.0,379.4 289.0,379.0 292.0,378.6 295.0,378.3 298.0,378.0 301.0,377.6 304.0,377.3 307.0,377.0 310.0,376.7 313.0,376.4 316.0,376.1 319.0,375.7 322.0,375.3 325.0,374.8 328.0,374.4 331.0,373.9 334.0,373.4 337.0,372.9 340.0,372.4 343.0,371.9 346.0,371.3 349.0,370.8 352.0,370.2 355.0,369.7 358.0,369.2 361.0,368.7 364.0,367.9 367.0,367.0 370.0,366.1 373.0,365.0 376.0,364.0 379.0,363.0 382.0,362.0 385.0,361.0 388.0,359.6 391.0,358.3 394.0,357.2 397.0,356.1 400.0,355.1 403.0,354.1 406.0,353.1 409.0,352.2 412.0,351.2 415.0,350.4 418.0,349.8 421.0,349.3 424.0,348.8 427.0,348.2 430.0,347.7 433.0,347.3 436.0,346.8 439.0,346.4 442.0,345.9 445.0,345.5 448.0,345.0 451.0,344.6 454.0,344.3 457.0,344.0 460.0,343.8 463.0,343.6 466.0,343.4 469.0,343.3 472.0,343.4 475.0,343.7 478.0,344.2 481.0,344.7 484.0,345.4 487.0,346.4 490.0,348.0 493.0,350.6 496.0,354.0 499.0,357.6 502.0,360.2 505.0,362.1 508.0,363.7 511.0,365.3 514.0,366.7 517.0,367.9 520.0,368.6 523.0,368.5 526.0,367.9 529.0,367.7 532.0,368.6 535.0,370.1 538.0,371.9 541.0,373.8 544.0,375.8 547.0,377.8 550.0,379.9 553.0,382.0 556.0,384.0 559.0,385.8 562.0,387.6 565.0,389.1 568.0,390.6 571.0,391.9 574.0,393.1 577.0,394.3 580.0,395.3 583.0,396.1 586.0,396.9 589.0,397.6 592.0,398.2" fill="none" stroke="#d0d0d0" stroke-width="1.46" opacity="0.85"/>
<polyline points="103.0,402.0 106.0,401.5 109.0,401.0 112.0,400.6 115.0,400.0 118.0,399.6 121.0,399.3 124.0,398.9 127.0,398.6 130.0,398.2 133.0,398.1 136.0,398.0 139.0,397.9 142.0,397.9 145.0,397.8 148.0,397.7 151.0,397.7 154.0,397.9 157.0,397.9 160.0,397.9 163.0,397.9 166.0,397.8 169.0,397.8 172.0,397.7 175.0,397.6 178.0,397.3 181.0,396.8 184.0,396.2 187.0,395.8 190.0,395.4 193.0,395.1 196.0,394.8 199.0,394.6 202.0,394.5 205.0,394.4 208.0,394.3 211.0,394.2 214.0,394.3 217.0,394.2 220.0,394.1 223.0,393.9 226.0,393.5 229.0,393.0 232.0,392.5 235.0,392.0 238.0,391.6 241.0,391.0 244.0,390.4 247.0,389.8 250.0,389.3 253.0,388.7 256.0,388.1 259.0,387.4 262.0,386.6 265.0,385.8 268.0,385.1 271.0,384.4 274.0,383.7 277.0,383.0 280.0,382.4 283.0,381.8 286.0,381.4 289.0,381.0 292.0,380.7 295.0,380.4 298.0,380.1 301.0,379.9 304.0,379.6 307.0,379.4 310.0,379.1 313.0,378.9 316.0,378.6 319.0,378.3 322.0,377.9 325.0,377.5 328.0,377.0 331.0,376.5 334.0,376.0 337.0,375.5 340.0,375.0 343.0,374.4 346.0,373.9 349.0,373.3 352.0,372.7 355.0,372.1 358.0,371.5 361.0,371.0 364.0,370.1 367.0,369.1 370.0,368.1 373.0,367.0 376.0,365.9 379.0,364.9 382.0,363.9 385.0,362.9 388.0,361.4 391.0,360.1 394.0,359.0 397.0,358.0 400.0,357.0 403.0,356.0 406.0,355.1 409.0,354.2 412.0,353.2 415.0,352.5 418.0,352.0 421.0,351.5 424.0,351.0 427.0,350.6 430.0,350.2 433.0,349.7 436.0,349.4 439.0,349.0 442.0,348.5 445.0,348.1 448.0,347.7 451.0,347.3 454.0,347.0 457.0,346.7 460.0,346.4 463.0,346.1 466.0,345.9 469.0,345.8 472.0,345.8 475.0,346.0 478.0,346.5 481.0,346.9 484.0,347.6 487.0,348.5 490.0,350.1 493.0,352.6 496.0,356.0 499.0,359.5 502.0,362.1 505.0,363.9 508.0,365.4 511.0,366.9 514.0,368.5 517.0,369.8 520.0,370.6 523.0,370.5 526.0,369.8 529.0,369.8 532.0,370.7 535.0,372.2 538.0,374.1 541.0,376.1 544.0,378.1 547.0,380.2 550.0,382.4 553.0,384.5 556.0,386.5 559.0,388.4 562.0,390.1 565.0,391.8 568.0,393.2 571.0,394.6 574.0,395.8 577.0,396.9 580.0,397.8 583.0,398.7 586.0,399.4 589.0,400.1 592.0,400.6" fill="none" stroke="#2a2a2a" stroke-width="1.52" opacity="0.85"/>
<polyline points="103.0,404.0 106.0,403.5 109.0,403.0 112.0,402.5 115.0,401.9 118.0,401.5 121.0,401.2 124.0,400.9 127.0,400.6 130.0,400.3 133.0,400.2 136.0,400.2 139.0,400.1 142.0,400.2 145.0,400.2 148.0,400.2 151.0,400.2 154.0,400.4 157.0,400.5 160.0,400.6 163.0,400.6 166.0,400.5 169.0,400.5 172.0,400.5 175.0,400.4 178.0,400.0 181.0,399.5 184.0,398.9 187.0,398.4 190.0,398.0 193.0,397.6 196.0,397.3 199.0,397.0 202.0,396.9 205.0,396.7 208.0,396.5 211.0,396.4 214.0,396.4 217.0,396.3 220.0,396.1 223.0,395.8 226.0,395.5 229.0,395.0 232.0,394.4 235.0,393.9 238.0,393.5 241.0,393.0 244.0,392.4 247.0,391.8 250.0,391.3 253.0,390.8 256.0,390.3 259.0,389.6 262.0,388.9 265.0,388.2 268.0,387.5 271.0,386.9 274.0,386.3 277.0,385.7 280.0,385.1 283.0,384.5 286.0,384.1 289.0,383.7 292.0,383.4 295.0,383.1 298.0,382.9 301.0,382.6 304.0,382.3 307.0,382.0 310.0,381.7 313.0,381.4 316.0,381.1 319.0,380.7 322.0,380.2 325.0,379.7 328.0,379.2 331.0,378.7 334.0,378.1 337.0,377.5 340.0,377.0 343.0,376.4 346.0,375.8 349.0,375.2 352.0,374.6 355.0,374.0 358.0,373.4 361.0,372.9 364.0,372.1 367.0,371.2 370.0,370.2 373.0,369.1 376.0,368.1 379.0,367.1 382.0,366.2 385.0,365.3 388.0,363.9 391.0,362.7 394.0,361.6 397.0,360.6 400.0,359.7 403.0,358.7 406.0,357.8 409.0,356.9 412.0,356.0 415.0,355.2 418.0,354.7 421.0,354.2 424.0,353.7 427.0,353.2 430.0,352.7 433.0,352.3 436.0,351.8 439.0,351.3 442.0,350.9 445.0,350.4 448.0,349.9 451.0,349.4 454.0,349.0 457.0,348.7 460.0,348.4 463.0,348.1 466.0,347.8 469.0,347.7 472.0,347.7 475.0,347.9 478.0,348.4 481.0,348.9 484.0,349.6 487.0,350.6 490.0,352.1 493.0,354.7 496.0,358.2 499.0,361.8 502.0,364.4 505.0,366.3 508.0,367.9 511.0,369.5 514.0,371.1 517.0,372.4 520.0,373.2 523.0,373.2 526.0,372.6 529.0,372.5 532.0,373.4 535.0,375.0 538.0,376.8 541.0,378.8 544.0,380.8 547.0,382.8 550.0,384.9 553.0,387.0 556.0,388.9 559.0,390.8 562.0,392.5 565.0,394.0 568.0,395.4 571.0,396.7 574.0,397.8 577.0,398.9 580.0,399.8 583.0,400.6 586.0,401.3 589.0,402.0 592.0,402.5" fill="none" stroke="#d0d0d0" stroke-width="1.49" opacity="0.85"/>
<polyline points="103.0,406.3 106.0,405.9 109.0,405.4 112.0,405.0 115.0,404.6 118.0,404.1 121.0,403.9 124.0,403.6 127.0,403.4 130.0,403.1 133.0,403.0 136.0,403.0 139.0,402.9 142.0,402.9 145.0,402.9 148.0,402.8 151.0,402.8 154.0,403.0 157.0,403.0 160.0,403.0 163.0,402.9 166.0,402.8 169.0,402.7 172.0,402.7 175.0,402.5 178.0,402.1 181.0,401.5 184.0,400.9 187.0,400.4 190.0,399.9 193.0,399.5 196.0,399.2 199.0,399.0 202.0,398.9 205.0,398.7 208.0,398.6 211.0,398.5 214.0,398.5 217.0,398.5 220.0,398.4 223.0,398.2 226.0,397.9 229.0,397.5 232.0,396.9 235.0,396.6 238.0,396.2 241.0,395.7 244.0,395.1 247.0,394.6 250.0,394.1 253.0,393.6 256.0,393.0 259.0,392.4 262.0,391.6 265.0,390.9 268.0,390.2 271.0,389.5 274.0,388.8 277.0,388.2 280.0,387.5 283.0,386.9 286.0,386.4 289.0,386.0 292.0,385.6 295.0,385.2 298.0,384.9 301.0,384.6 304.0,384.3 307.0,384.0 310.0,383.7 313.0,383.3 316.0,383.0 319.0,382.6 322.0,382.2 325.0,381.8 328.0,381.3 331.0,380.8 334.0,380.3 337.0,379.8 340.0,379.3 343.0,378.8 346.0,378.2 349.0,377.7 352.0,377.1 355.0,376.6 358.0,376.1 361.0,375.6 364.0,374.8 367.0,373.9 370.0,373.0 373.0,371.9 376.0,370.9 379.0,369.9 382.0,368.9 385.0,368.0 388.0,366.5 391.0,365.3 394.0,364.1 397.0,363.1 400.0,362.1 403.0,361.1 406.0,360.1 409.0,359.1 412.0,358.1 415.0,357.3 418.0,356.7 421.0,356.2 424.0,355.7 427.0,355.2 430.0,354.7 433.0,354.2 436.0,353.8 439.0,353.3 442.0,352.8 445.0,352.4 448.0,351.9 451.0,351.6 454.0,351.2 457.0,350.9 460.0,350.7 463.0,350.5 466.0,350.3 469.0,350.2 472.0,350.3 475.0,350.6 478.0,351.1 481.0,351.6 484.0,352.3 487.0,353.4 490.0,354.9 493.0,357.5 496.0,361.0 499.0,364.6 502.0,367.2 505.0,369.0 508.0,370.5 511.0,372.1 514.0,373.6 517.0,374.9 520.0,375.6 523.0,375.6 526.0,374.8 529.0,374.7 532.0,375.6 535.0,377.0 538.0,378.8 541.0,380.8 544.0,382.7 547.0,384.8 550.0,386.9 553.0,388.9 556.0,390.9 559.0,392.7 562.0,394.5 565.0,396.0 568.0,397.5 571.0,398.8 574.0,400.0 577.0,401.2 580.0,402.2 583.0,403.0 586.0,403.8 589.0,404.5 592.0,405.1" fill="none" stroke="#505050" stroke-width="1.29" opacity="0.85"/>
<polyline points="103.0,409.1 106.0,408.6 109.0,408.1 112.0,407.6 115.0,407.1 118.0,406.6 121.0,406.3 124.0,406.0 127.0,405.7 130.0,405.3 133.0,405.2 136.0,405.1 139.0,405.0 142.0,404.9 145.0,404.9 148.0,404.8 151.0,404.7 154.0,404.9 157.0,405.0 160.0,405.0 163.0,404.9 166.0,404.9 169.0,404.8 172.0,404.8 175.0,404.7 178.0,404.4 181.0,403.8 184.0,403.3 187.0,402.9 190.0,402.5 193.0,402.2 196.0,401.9 199.0,401.7 202.0,401.6 205.0,401.5 208.0,401.4 211.0,401.3 214.0,401.3 217.0,401.3 220.0,401.2 223.0,400.9 226.0,400.6 229.0,400.1 232.0,399.5 235.0,399.1 238.0,398.6 241.0,398.1 244.0,397.5 247.0,396.9 250.0,396.3 253.0,395.8 256.0,395.1 259.0,394.4 262.0,393.6 265.0,392.9 268.0,392.2 271.0,391.5 274.0,390.8 277.0,390.1 280.0,389.5 283.0,388.9 286.0,388.4 289.0,388.1 292.0,387.7 295.0,387.5 298.0,387.2 301.0,386.9 304.0,386.7 307.0,386.5 310.0,386.2 313.0,385.9 316.0,385.7 319.0,385.3 322.0,385.0 325.0,384.6 328.0,384.1 331.0,383.6 334.0,383.1 337.0,382.6 340.0,382.1 343.0,381.5 346.0,380.9 349.0,380.3 352.0,379.7 355.0,379.1 358.0,378.6 361.0,378.0 364.0,377.1 367.0,376.2 370.0,375.1 373.0,374.1 376.0,373.0 379.0,371.9 382.0,370.9 385.0,369.9 388.0,368.5 391.0,367.2 394.0,366.1 397.0,365.0 400.0,364.1 403.0,363.1 406.0,362.2 409.0,361.2 412.0,360.3 415.0,359.5 418.0,359.1 421.0,358.6 424.0,358.1 427.0,357.7 430.0,357.2 433.0,356.8 436.0,356.4 439.0,356.0 442.0,355.6 445.0,355.2 448.0,354.8 451.0,354.4 454.0,354.0 457.0,353.7 460.0,353.5 463.0,353.2 466.0,353.0 469.0,352.9 472.0,352.8 475.0,353.1 478.0,353.5 481.0,354.0 484.0,354.6 487.0,355.6 490.0,357.1 493.0,359.6 496.0,363.1 499.0,366.6 502.0,369.2 505.0,371.0 508.0,372.5 511.0,374.0 514.0,375.5 517.0,376.8 520.0,377.6 523.0,377.6 526.0,376.9 529.0,376.8 532.0,377.7 535.0,379.3 538.0,381.2 541.0,383.1 544.0,385.2 547.0,387.3 550.0,389.4 553.0,391.6 556.0,393.6 559.0,395.5 562.0,397.2 565.0,398.8 568.0,400.3 571.0,401.6 574.0,402.9 577.0,404.0 580.0,404.9 583.0,405.8 586.0,406.5 589.0,407.1 592.0,407.7" fill="none" stroke="#dadada" stroke-width="1.55" opacity="0.85"/>
<polyline points="103.0,411.4 106.0,410.9 109.0,410.4 112.0,409.9 115.0,409.4 118.0,408.9 121.0,408.7 124.0,408.4 127.0,408.1 130.0,407.8 133.0,407.7 136.0,407.7 139.0,407.7 142.0,407.7 145.0,407.7 148.0,407.7 151.0,407.7 154.0,408.0 157.0,408.1 160.0,408.1 163.0,408.1 166.0,408.1 169.0,408.0 172.0,408.0 175.0,407.8 178.0,407.5 181.0,406.9 184.0,406.4 187.0,405.8 190.0,405.4 193.0,405.0 196.0,404.7 199.0,404.4 202.0,404.3 205.0,404.1 208.0,403.9 211.0,403.8 214.0,403.7 217.0,403.7 220.0,403.5 223.0,403.2 226.0,402.9 229.0,402.4 232.0,401.8 235.0,401.4 238.0,401.0 241.0,400.4 244.0,399.9 247.0,399.3 250.0,398.9 253.0,398.4 256.0,397.8 259.0,397.1 262.0,396.5 265.0,395.8 268.0,395.1 271.0,394.5 274.0,393.8 277.0,393.2 280.0,392.6 283.0,392.1 286.0,391.6 289.0,391.2 292.0,390.9 295.0,390.6 298.0,390.3 301.0,390.0 304.0,389.7 307.0,389.5 310.0,389.1 313.0,388.8 316.0,388.4 319.0,388.0 322.0,387.6 325.0,387.1 328.0,386.6 331.0,386.0 334.0,385.5 337.0,384.9 340.0,384.3 343.0,383.8 346.0,383.2 349.0,382.6 352.0,382.0 355.0,381.4 358.0,380.9 361.0,380.4 364.0,379.6 367.0,378.7 370.0,377.7 373.0,376.7 376.0,375.7 379.0,374.7 382.0,373.7 385.0,372.8 388.0,371.4 391.0,370.2 394.0,369.2 397.0,368.2 400.0,367.2 403.0,366.3 406.0,365.3 409.0,364.4 412.0,363.5 415.0,362.7 418.0,362.2 421.0,361.7 424.0,361.2 427.0,360.6 430.0,360.1 433.0,359.7 436.0,359.2 439.0,358.7 442.0,358.2 445.0,357.7 448.0,357.2 451.0,356.8 454.0,356.4 457.0,356.1 460.0,355.8 463.0,355.5 466.0,355.2 469.0,355.1 472.0,355.1 475.0,355.4 478.0,355.8 481.0,356.4 484.0,357.1 487.0,358.1 490.0,359.7 493.0,362.2 496.0,365.8 499.0,369.4 502.0,372.0 505.0,373.9 508.0,375.4 511.0,377.0 514.0,378.6 517.0,380.0 520.0,380.8 523.0,380.8 526.0,380.1 529.0,380.0 532.0,380.9 535.0,382.5 538.0,384.3 541.0,386.2 544.0,388.2 547.0,390.2 550.0,392.3 553.0,394.4 556.0,396.3 559.0,398.1 562.0,399.8 565.0,401.4 568.0,402.8 571.0,404.0 574.0,405.2 577.0,406.3 580.0,407.2 583.0,408.0 586.0,408.8 589.0,409.4 592.0,410.0" fill="none" stroke="#505050" stroke-width="1.21" opacity="0.85"/>
<polyline points="103.0,414.3 106.0,413.9 109.0,413.5 112.0,413.0 115.0,412.5 118.0,412.1 121.0,411.9 124.0,411.6 127.0,411.3 130.0,411.0 133.0,410.9 136.0,410.8 139.0,410.7 142.0,410.7 145.0,410.7 148.0,410.5 151.0,410.5 154.0,410.7 157.0,410.7 160.0,410.7 163.0,410.6 166.0,410.5 169.0,410.4 172.0,410.3 175.0,410.1 178.0,409.8 181.0,409.2 184.0,408.6 187.0,408.1 190.0,407.7 193.0,407.3 196.0,407.1 199.0,406.9 202.0,406.7 205.0,406.6 208.0,406.5 211.0,406.5 214.0,406.5 217.0,406.5 220.0,406.4 223.0,406.2 226.0,405.9 229.0,405.5 232.0,404.9 235.0,404.5 238.0,404.1 241.0,403.6 244.0,403.1 247.0,402.5 250.0,402.0 253.0,401.5 256.0,400.9 259.0,400.2 262.0,399.4 265.0,398.7 268.0,397.9 271.0,397.2 274.0,396.5 277.0,395.8 280.0,395.2 283.0,394.6 286.0,394.0 289.0,393.6 292.0,393.2 295.0,392.9 298.0,392.6 301.0,392.3 304.0,392.0 307.0,391.7 310.0,391.4 313.0,391.1 316.0,390.8 319.0,390.5 322.0,390.1 325.0,389.7 328.0,389.2 331.0,388.8 334.0,388.3 337.0,387.8 340.0,387.3 343.0,386.8 346.0,386.2 349.0,385.7 352.0,385.1 355.0,384.6 358.0,384.1 361.0,383.6 364.0,382.7 367.0,381.8 370.0,380.8 373.0,379.8 376.0,378.7 379.0,377.7 382.0,376.7 385.0,375.7 388.0,374.2 391.0,373.0 394.0,371.8 397.0,370.7 400.0,369.7 403.0,368.7 406.0,367.7 409.0,366.8 412.0,365.8 415.0,365.0 418.0,364.4 421.0,363.9 424.0,363.4 427.0,362.9 430.0,362.5 433.0,362.0 436.0,361.6 439.0,361.2 442.0,360.7 445.0,360.3 448.0,359.9 451.0,359.5 454.0,359.2 457.0,358.9 460.0,358.7 463.0,358.5 466.0,358.3 469.0,358.2 472.0,358.3 475.0,358.6 478.0,359.0 481.0,359.6 484.0,360.3 487.0,361.3 490.0,362.8 493.0,365.3 496.0,368.8 499.0,372.4 502.0,374.9 505.0,376.7 508.0,378.2 511.0,379.8 514.0,381.3 517.0,382.5 520.0,383.3 523.0,383.2 526.0,382.5 529.0,382.4 532.0,383.2 535.0,384.7 538.0,386.5 541.0,388.5 544.0,390.5 547.0,392.5 550.0,394.6 553.0,396.7 556.0,398.7 559.0,400.6 562.0,402.4 565.0,404.0 568.0,405.4 571.0,406.8 574.0,408.0 577.0,409.2 580.0,410.2 583.0,411.0 586.0,411.8 589.0,412.5 592.0,413.1" fill="none" stroke="#d0d0d0" stroke-width="1.45" opacity="0.85"/>
<polyline points="103.0,417.1 106.0,416.6 109.0,416.1 112.0,415.6 115.0,415.0 118.0,414.5 121.0,414.2 124.0,413.9 127.0,413.6 130.0,413.2 133.0,413.1 136.0,413.0 139.0,413.0 142.0,412.9 145.0,412.9 148.0,412.9 151.0,412.9 154.0,413.1 157.0,413.2 160.0,413.2 163.0,413.2 166.0,413.2 169.0,413.2 172.0,413.2 175.0,413.0 178.0,412.8 181.0,412.2 184.0,411.7 187.0,411.2 190.0,410.8 193.0,410.5 196.0,410.2 199.0,410.0 202.0,409.9 205.0,409.7 208.0,409.6 211.0,409.5 214.0,409.5 217.0,409.4 220.0,409.2 223.0,409.0 226.0,408.6 229.0,408.1 232.0,407.5 235.0,407.0 238.0,406.6 241.0,406.0 244.0,405.4 247.0,404.8 250.0,404.3 253.0,403.7 256.0,403.1 259.0,402.4 262.0,401.7 265.0,400.9 268.0,400.3 271.0,399.6 274.0,398.9 277.0,398.3 280.0,397.7 283.0,397.2 286.0,396.7 289.0,396.4 292.0,396.1 295.0,395.8 298.0,395.6 301.0,395.3 304.0,395.1 307.0,394.8 310.0,394.6 313.0,394.3 316.0,394.0 319.0,393.6 322.0,393.2 325.0,392.8 328.0,392.3 331.0,391.8 334.0,391.2 337.0,390.7 340.0,390.1 343.0,389.5 346.0,388.9 349.0,388.3 352.0,387.7 355.0,387.1 358.0,386.5 361.0,385.9 364.0,385.1 367.0,384.1 370.0,383.1 373.0,382.0 376.0,381.0 379.0,379.9 382.0,379.0 385.0,378.0 388.0,376.6 391.0,375.3 394.0,374.3 397.0,373.3 400.0,372.3 403.0,371.4 406.0,370.5 409.0,369.6 412.0,368.7 415.0,367.9 418.0,367.4 421.0,367.0 424.0,366.5 427.0,366.1 430.0,365.6 433.0,365.2 436.0,364.8 439.0,364.3 442.0,363.9 445.0,363.4 448.0,363.0 451.0,362.5 454.0,362.2 457.0,361.8 460.0,361.5 463.0,361.2 466.0,361.0 469.0,360.8 472.0,360.8 475.0,361.0 478.0,361.4 481.0,361.9 484.0,362.6 487.0,363.5 490.0,365.1 493.0,367.6 496.0,371.1 499.0,374.6 502.0,377.2 505.0,379.0 508.0,380.6 511.0,382.2 514.0,383.7 517.0,385.1 520.0,385.9 523.0,385.9 526.0,385.2 529.0,385.2 532.0,386.1 535.0,387.7 538.0,389.5 541.0,391.5 544.0,393.6 547.0,395.7 550.0,397.8 553.0,399.9 556.0,401.9 559.0,403.8 562.0,405.5 565.0,407.1 568.0,408.5 571.0,409.8 574.0,411.0 577.0,412.0 580.0,413.0 583.0,413.8 586.0,414.5 589.0,415.1 592.0,415.6" fill="none" stroke="#404040" stroke-width="1.25" opacity="0.85"/>
<polyline points="103.0,419.4 106.0,419.0 109.0,418.5 112.0,418.1 115.0,417.6 118.0,417.2 121.0,416.9 124.0,416.7 127.0,416.4 130.0,416.1 133.0,416.1 136.0,416.1 139.0,416.0 142.0,416.0 145.0,416.1 148.0,416.0 151.0,416.0 154.0,416.2 157.0,416.3 160.0,416.3 163.0,416.3 166.0,416.2 169.0,416.1 172.0,416.0 175.0,415.9 178.0,415.5 181.0,414.9 184.0,414.3 187.0,413.8 190.0,413.3 193.0,412.9 196.0,412.6 199.0,412.3 202.0,412.1 205.0,412.0 208.0,411.8 211.0,411.7 214.0,411.7 217.0,411.7 220.0,411.5 223.0,411.3 226.0,411.0 229.0,410.5 232.0,410.0 235.0,409.6 238.0,409.2 241.0,408.7 244.0,408.2 247.0,407.7 250.0,407.2 253.0,406.7 256.0,406.1 259.0,405.5 262.0,404.8 265.0,404.1 268.0,403.4 271.0,402.7 274.0,402.1 277.0,401.4 280.0,400.8 283.0,400.2 286.0,399.7 289.0,399.3 292.0,399.0 295.0,398.6 298.0,398.3 301.0,398.0 304.0,397.7 307.0,397.4 310.0,397.0 313.0,396.7 316.0,396.3 319.0,395.9 322.0,395.5 325.0,395.0 328.0,394.5 331.0,394.0 334.0,393.5 337.0,392.9 340.0,392.4 343.0,391.9 346.0,391.3 349.0,390.7 352.0,390.2 355.0,389.6 358.0,389.1 361.0,388.7 364.0,387.9 367.0,387.0 370.0,386.0 373.0,385.0 376.0,384.0 379.0,383.0 382.0,382.1 385.0,381.2 388.0,379.7 391.0,378.5 394.0,377.4 397.0,376.4 400.0,375.4 403.0,374.4 406.0,373.4 409.0,372.5 412.0,371.5 415.0,370.7 418.0,370.1 421.0,369.6 424.0,369.1 427.0,368.5 430.0,368.0 433.0,367.5 436.0,367.1 439.0,366.6 442.0,366.1 445.0,365.6 448.0,365.2 451.0,364.7 454.0,364.4 457.0,364.1 460.0,363.8 463.0,363.6 466.0,363.4 469.0,363.3 472.0,363.3 475.0,363.6 478.0,364.1 481.0,364.7 484.0,365.4 487.0,366.4 490.0,368.0 493.0,370.6 496.0,374.1 499.0,377.7 502.0,380.3 505.0,382.2 508.0,383.7 511.0,385.3 514.0,386.9 517.0,388.2 520.0,389.0 523.0,388.9 526.0,388.2 529.0,388.1 532.0,388.9 535.0,390.4 538.0,392.2 541.0,394.1 544.0,396.1 547.0,398.1 550.0,400.2 553.0,402.3 556.0,404.2 559.0,406.0 562.0,407.7 565.0,409.3 568.0,410.7 571.0,412.0 574.0,413.2 577.0,414.3 580.0,415.3 583.0,416.1 586.0,416.9 589.0,417.6 592.0,418.2" fill="none" stroke="#bebebe" stroke-width="1.37" opacity="0.85"/>
<rect x="103" y="300" width="490" height="142" fill="#000" filter="url(#nzd2)" opacity="0.3"/>
<rect x="103" y="300" width="490" height="142" fill="#fff" filter="url(#nzl2)" opacity="0.25"/>
<clipPath id="cBelow"><polygon points="103.0,402.0 106.0,401.8 109.0,401.7 112.0,401.5 115.0,401.4 118.0,401.3 121.0,401.3 124.0,401.3 127.0,401.4 130.0,401.4 133.0,401.6 136.0,401.9 139.0,402.2 142.0,402.5 145.0,402.8 148.0,403.1 151.0,403.4 154.0,403.9 157.0,404.3 160.0,404.6 163.0,404.9 166.0,405.2 169.0,405.5 172.0,405.8 175.0,405.9 178.0,405.9 181.0,405.7 184.0,405.5 187.0,405.3 190.0,405.2 193.0,405.2 196.0,405.2 199.0,405.3 202.0,405.5 205.0,405.7 208.0,405.9 211.0,406.1 214.0,406.5 217.0,406.8 220.0,407.0 223.0,407.0 226.0,407.0 229.0,406.9 232.0,406.7 235.0,406.6 238.0,406.5 241.0,406.3 244.0,406.0 247.0,405.8 250.0,405.5 253.0,404.9 256.0,404.3 259.0,403.7 262.0,402.9 265.0,402.2 268.0,401.5 271.0,400.8 274.0,400.1 277.0,399.5 280.0,398.9 283.0,398.3 286.0,397.8 289.0,397.4 292.0,397.1 295.0,396.8 298.0,396.5 301.0,396.2 304.0,395.9 307.0,395.7 310.0,395.4 313.0,395.1 316.0,394.7 319.0,394.4 322.0,394.0 325.0,393.5 328.0,393.0 331.0,392.5 334.0,392.0 337.0,391.5 340.0,391.0 343.0,390.4 346.0,389.8 349.0,389.3 352.0,388.7 355.0,388.1 358.0,387.6 361.0,387.0 364.0,386.2 367.0,385.3 370.0,384.3 373.0,383.2 376.0,382.2 379.0,381.2 382.0,380.2 385.0,379.3 388.0,377.8 391.0,376.6 394.0,375.5 397.0,374.4 400.0,373.4 403.0,372.5 406.0,371.5 409.0,370.6 412.0,369.7 415.0,368.9 418.0,368.4 421.0,367.9 424.0,367.4 427.0,366.9 430.0,366.4 433.0,366.0 436.0,365.5 439.0,365.1 442.0,364.6 445.0,364.2 448.0,363.7 451.0,363.3 454.0,363.0 457.0,362.6 460.0,362.4 463.0,362.1 466.0,361.9 469.0,361.8 472.0,361.8 475.0,362.1 478.0,362.5 481.0,362.9 484.0,363.2 487.0,363.9 490.0,365.1 493.0,367.2 496.0,370.4 499.0,373.6 502.0,375.8 505.0,377.3 508.0,378.5 511.0,379.7 514.0,380.8 517.0,381.8 520.0,382.2 523.0,381.8 526.0,380.8 529.0,380.3 532.0,380.9 535.0,382.0 538.0,383.5 541.0,385.1 544.0,386.7 547.0,388.4 550.0,390.2 553.0,391.9 556.0,393.5 559.0,395.0 562.0,396.4 565.0,397.6 568.0,398.7 571.0,399.6 574.0,400.5 577.0,401.2 580.0,401.8 583.0,402.3 586.0,402.7 589.0,403.0 592.0,403.2 593.0,442.0 103.0,442.0"/></clipPath>
<polygon points="103.0,402.0 106.0,401.8 109.0,401.7 112.0,401.5 115.0,401.4 118.0,401.3 121.0,401.3 124.0,401.3 127.0,401.4 130.0,401.4 133.0,401.6 136.0,401.9 139.0,402.2 142.0,402.5 145.0,402.8 148.0,403.1 151.0,403.4 154.0,403.9 157.0,404.3 160.0,404.6 163.0,404.9 166.0,405.2 169.0,405.5 172.0,405.8 175.0,405.9 178.0,405.9 181.0,405.7 184.0,405.5 187.0,405.3 190.0,405.2 193.0,405.2 196.0,405.2 199.0,405.3 202.0,405.5 205.0,405.7 208.0,405.9 211.0,406.1 214.0,406.5 217.0,406.8 220.0,407.0 223.0,407.0 226.0,407.0 229.0,406.9 232.0,406.7 235.0,406.6 238.0,406.5 241.0,406.3 244.0,406.0 247.0,405.8 250.0,405.5 253.0,404.9 256.0,404.3 259.0,403.7 262.0,402.9 265.0,402.2 268.0,401.5 271.0,400.8 274.0,400.1 277.0,399.5 280.0,398.9 283.0,398.3 286.0,397.8 289.0,397.4 292.0,397.1 295.0,396.8 298.0,396.5 301.0,396.2 304.0,395.9 307.0,395.7 310.0,395.4 313.0,395.1 316.0,394.7 319.0,394.4 322.0,394.0 325.0,393.5 328.0,393.0 331.0,392.5 334.0,392.0 337.0,391.5 340.0,391.0 343.0,390.4 346.0,389.8 349.0,389.3 352.0,388.7 355.0,388.1 358.0,387.6 361.0,387.0 364.0,386.2 367.0,385.3 370.0,384.3 373.0,383.2 376.0,382.2 379.0,381.2 382.0,380.2 385.0,379.3 388.0,377.8 391.0,376.6 394.0,375.5 397.0,374.4 400.0,373.4 403.0,372.5 406.0,371.5 409.0,370.6 412.0,369.7 415.0,368.9 418.0,368.4 421.0,367.9 424.0,367.4 427.0,366.9 430.0,366.4 433.0,366.0 436.0,365.5 439.0,365.1 442.0,364.6 445.0,364.2 448.0,363.7 451.0,363.3 454.0,363.0 457.0,362.6 460.0,362.4 463.0,362.1 466.0,361.9 469.0,361.8 472.0,361.8 475.0,362.1 478.0,362.5 481.0,362.9 484.0,363.2 487.0,363.9 490.0,365.1 493.0,367.2 496.0,370.4 499.0,373.6 502.0,375.8 505.0,377.3 508.0,378.5 511.0,379.7 514.0,380.8 517.0,381.8 520.0,382.2 523.0,381.8 526.0,380.8 529.0,380.3 532.0,380.9 535.0,382.0 538.0,383.5 541.0,385.1 544.0,386.7 547.0,388.4 550.0,390.2 553.0,391.9 556.0,393.5 559.0,395.0 562.0,396.4 565.0,397.6 568.0,398.7 571.0,399.6 574.0,400.5 577.0,401.2 580.0,401.8 583.0,402.3 586.0,402.7 589.0,403.0 592.0,403.2 593.0,442.0 103.0,442.0" fill="#8f8f8f" opacity="0.25"/>
<polygon points="103.0,406.0 106.0,405.8 109.0,405.7 112.0,405.5 115.0,405.4 118.0,405.3 121.0,405.3 124.0,405.3 127.0,405.4 130.0,405.4 133.0,405.6 136.0,405.9 139.0,406.2 142.0,406.5 145.0,406.8 148.0,407.1 151.0,407.4 154.0,407.9 157.0,408.3 160.0,408.6 163.0,408.9 166.0,409.2 169.0,409.5 172.0,409.8 175.0,409.9 178.0,409.9 181.0,409.7 184.0,409.5 187.0,409.3 190.0,409.2 193.0,409.2 196.0,409.2 199.0,409.3 202.0,409.5 205.0,409.7 208.0,409.9 211.0,410.1 214.0,410.5 217.0,410.8 220.0,411.0 223.0,411.0 226.0,411.0 229.0,410.9 232.0,410.7 235.0,410.6 238.0,410.5 241.0,410.3 244.0,410.0 247.0,409.8 250.0,409.5 253.0,408.9 256.0,408.3 259.0,407.7 262.0,406.9 265.0,406.2 268.0,405.5 271.0,404.8 274.0,404.1 277.0,403.5 280.0,402.9 283.0,402.3 286.0,401.8 289.0,401.4 292.0,401.1 295.0,400.8 298.0,400.5 301.0,400.2 304.0,399.9 307.0,399.7 310.0,399.4 313.0,399.1 316.0,398.7 319.0,398.4 322.0,398.0 325.0,397.5 328.0,397.0 331.0,396.5 334.0,396.0 337.0,395.5 340.0,395.0 343.0,394.4 346.0,393.8 349.0,393.3 352.0,392.7 355.0,392.1 358.0,391.6 361.0,391.0 364.0,390.2 367.0,389.3 370.0,388.3 373.0,387.2 376.0,386.2 379.0,385.2 382.0,384.2 385.0,383.3 388.0,381.8 391.0,380.6 394.0,379.5 397.0,378.4 400.0,377.4 403.0,376.5 406.0,375.5 409.0,374.6 412.0,373.7 415.0,372.9 418.0,372.4 421.0,371.9 424.0,371.4 427.0,370.9 430.0,370.4 433.0,370.0 436.0,369.5 439.0,369.1 442.0,368.6 445.0,368.2 448.0,367.7 451.0,367.3 454.0,367.0 457.0,366.6 460.0,366.4 463.0,366.1 466.0,365.9 469.0,365.8 472.0,365.8 475.0,366.1 478.0,366.5 481.0,366.9 484.0,367.2 487.0,367.9 490.0,369.1 493.0,371.2 496.0,374.4 499.0,377.6 502.0,379.8 505.0,381.3 508.0,382.5 511.0,383.7 514.0,384.8 517.0,385.8 520.0,386.2 523.0,385.8 526.0,384.8 529.0,384.3 532.0,384.9 535.0,386.0 538.0,387.5 541.0,389.1 544.0,390.7 547.0,392.4 550.0,394.2 553.0,395.9 556.0,397.5 559.0,399.0 562.0,400.4 565.0,401.6 568.0,402.7 571.0,403.6 574.0,404.5 577.0,405.2 580.0,405.8 583.0,406.3 586.0,406.7 589.0,407.0 592.0,407.2 593.0,442.0 103.0,442.0" fill="#8f8f8f" opacity="0.3"/>
<polygon points="103.0,410.0 106.0,409.8 109.0,409.7 112.0,409.5 115.0,409.4 118.0,409.3 121.0,409.3 124.0,409.3 127.0,409.4 130.0,409.4 133.0,409.6 136.0,409.9 139.0,410.2 142.0,410.5 145.0,410.8 148.0,411.1 151.0,411.4 154.0,411.9 157.0,412.3 160.0,412.6 163.0,412.9 166.0,413.2 169.0,413.5 172.0,413.8 175.0,413.9 178.0,413.9 181.0,413.7 184.0,413.5 187.0,413.3 190.0,413.2 193.0,413.2 196.0,413.2 199.0,413.3 202.0,413.5 205.0,413.7 208.0,413.9 211.0,414.1 214.0,414.5 217.0,414.8 220.0,415.0 223.0,415.0 226.0,415.0 229.0,414.9 232.0,414.7 235.0,414.6 238.0,414.5 241.0,414.3 244.0,414.0 247.0,413.8 250.0,413.5 253.0,412.9 256.0,412.3 259.0,411.7 262.0,410.9 265.0,410.2 268.0,409.5 271.0,408.8 274.0,408.1 277.0,407.5 280.0,406.9 283.0,406.3 286.0,405.8 289.0,405.4 292.0,405.1 295.0,404.8 298.0,404.5 301.0,404.2 304.0,403.9 307.0,403.7 310.0,403.4 313.0,403.1 316.0,402.7 319.0,402.4 322.0,402.0 325.0,401.5 328.0,401.0 331.0,400.5 334.0,400.0 337.0,399.5 340.0,399.0 343.0,398.4 346.0,397.8 349.0,397.3 352.0,396.7 355.0,396.1 358.0,395.6 361.0,395.0 364.0,394.2 367.0,393.3 370.0,392.3 373.0,391.2 376.0,390.2 379.0,389.2 382.0,388.2 385.0,387.3 388.0,385.8 391.0,384.6 394.0,383.5 397.0,382.4 400.0,381.4 403.0,380.5 406.0,379.5 409.0,378.6 412.0,377.7 415.0,376.9 418.0,376.4 421.0,375.9 424.0,375.4 427.0,374.9 430.0,374.4 433.0,374.0 436.0,373.5 439.0,373.1 442.0,372.6 445.0,372.2 448.0,371.7 451.0,371.3 454.0,371.0 457.0,370.6 460.0,370.4 463.0,370.1 466.0,369.9 469.0,369.8 472.0,369.8 475.0,370.1 478.0,370.5 481.0,370.9 484.0,371.2 487.0,371.9 490.0,373.1 493.0,375.2 496.0,378.4 499.0,381.6 502.0,383.8 505.0,385.3 508.0,386.5 511.0,387.7 514.0,388.8 517.0,389.8 520.0,390.2 523.0,389.8 526.0,388.8 529.0,388.3 532.0,388.9 535.0,390.0 538.0,391.5 541.0,393.1 544.0,394.7 547.0,396.4 550.0,398.2 553.0,399.9 556.0,401.5 559.0,403.0 562.0,404.4 565.0,405.6 568.0,406.7 571.0,407.6 574.0,408.5 577.0,409.2 580.0,409.8 583.0,410.3 586.0,410.7 589.0,411.0 592.0,411.2 593.0,442.0 103.0,442.0" fill="#8f8f8f" opacity="0.4"/>
<polygon points="103.0,414.0 106.0,413.8 109.0,413.7 112.0,413.5 115.0,413.4 118.0,413.3 121.0,413.3 124.0,413.3 127.0,413.4 130.0,413.4 133.0,413.6 136.0,413.9 139.0,414.2 142.0,414.5 145.0,414.8 148.0,415.1 151.0,415.4 154.0,415.9 157.0,416.3 160.0,416.6 163.0,416.9 166.0,417.2 169.0,417.5 172.0,417.8 175.0,417.9 178.0,417.9 181.0,417.7 184.0,417.5 187.0,417.3 190.0,417.2 193.0,417.2 196.0,417.2 199.0,417.3 202.0,417.5 205.0,417.7 208.0,417.9 211.0,418.1 214.0,418.5 217.0,418.8 220.0,419.0 223.0,419.0 226.0,419.0 229.0,418.9 232.0,418.7 235.0,418.6 238.0,418.5 241.0,418.3 244.0,418.0 247.0,417.8 250.0,417.5 253.0,416.9 256.0,416.3 259.0,415.7 262.0,414.9 265.0,414.2 268.0,413.5 271.0,412.8 274.0,412.1 277.0,411.5 280.0,410.9 283.0,410.3 286.0,409.8 289.0,409.4 292.0,409.1 295.0,408.8 298.0,408.5 301.0,408.2 304.0,407.9 307.0,407.7 310.0,407.4 313.0,407.1 316.0,406.7 319.0,406.4 322.0,406.0 325.0,405.5 328.0,405.0 331.0,404.5 334.0,404.0 337.0,403.5 340.0,403.0 343.0,402.4 346.0,401.8 349.0,401.3 352.0,400.7 355.0,400.1 358.0,399.6 361.0,399.0 364.0,398.2 367.0,397.3 370.0,396.3 373.0,395.2 376.0,394.2 379.0,393.2 382.0,392.2 385.0,391.3 388.0,389.8 391.0,388.6 394.0,387.5 397.0,386.4 400.0,385.4 403.0,384.5 406.0,383.5 409.0,382.6 412.0,381.7 415.0,380.9 418.0,380.4 421.0,379.9 424.0,379.4 427.0,378.9 430.0,378.4 433.0,378.0 436.0,377.5 439.0,377.1 442.0,376.6 445.0,376.2 448.0,375.7 451.0,375.3 454.0,375.0 457.0,374.6 460.0,374.4 463.0,374.1 466.0,373.9 469.0,373.8 472.0,373.8 475.0,374.1 478.0,374.5 481.0,374.9 484.0,375.2 487.0,375.9 490.0,377.1 493.0,379.2 496.0,382.4 499.0,385.6 502.0,387.8 505.0,389.3 508.0,390.5 511.0,391.7 514.0,392.8 517.0,393.8 520.0,394.2 523.0,393.8 526.0,392.8 529.0,392.3 532.0,392.9 535.0,394.0 538.0,395.5 541.0,397.1 544.0,398.7 547.0,400.4 550.0,402.2 553.0,403.9 556.0,405.5 559.0,407.0 562.0,408.4 565.0,409.6 568.0,410.7 571.0,411.6 574.0,412.5 577.0,413.2 580.0,413.8 583.0,414.3 586.0,414.7 589.0,415.0 592.0,415.2 593.0,442.0 103.0,442.0" fill="#8f8f8f" opacity="0.6"/>
<g clip-path="url(#cBelow)">
<rect x="103" y="300" width="490" height="142" fill="#000" filter="url(#nzd2)" opacity="0.4"/>
<rect x="103" y="300" width="490" height="142" fill="#fff" filter="url(#nzl2)" opacity="0.35"/>
</g>
<polyline points="103.0,401.0 106.0,400.8 109.0,400.7 112.0,400.5 115.0,400.4 118.0,400.3 121.0,400.3 124.0,400.3 127.0,400.4 130.0,400.4 133.0,400.6 136.0,400.9 139.0,401.2 142.0,401.5 145.0,401.8 148.0,402.1 151.0,402.4 154.0,402.9 157.0,403.3 160.0,403.6 163.0,403.9 166.0,404.2 169.0,404.5 172.0,404.8 175.0,404.9 178.0,404.9 181.0,404.7 184.0,404.5 187.0,404.3 190.0,404.2 193.0,404.2 196.0,404.2 199.0,404.3 202.0,404.5 205.0,404.7 208.0,404.9 211.0,405.1 214.0,405.5 217.0,405.8 220.0,406.0 223.0,406.0 226.0,406.0 229.0,405.9 232.0,405.7 235.0,405.6 238.0,405.5 241.0,405.3 244.0,405.0 247.0,404.8 250.0,404.5 253.0,403.9 256.0,403.3 259.0,402.7 262.0,401.9 265.0,401.2 268.0,400.5 271.0,399.8 274.0,399.1 277.0,398.5 280.0,397.9 283.0,397.3 286.0,396.8 289.0,396.4 292.0,396.1 295.0,395.8 298.0,395.5 301.0,395.2 304.0,394.9 307.0,394.7 310.0,394.4 313.0,394.1 316.0,393.7 319.0,393.4 322.0,393.0 325.0,392.5 328.0,392.0 331.0,391.5 334.0,391.0 337.0,390.5 340.0,390.0 343.0,389.4 346.0,388.8 349.0,388.3 352.0,387.7 355.0,387.1 358.0,386.6 361.0,386.0 364.0,385.2 367.0,384.3 370.0,383.3 373.0,382.2 376.0,381.2 379.0,380.2 382.0,379.2 385.0,378.3 388.0,376.8 391.0,375.6 394.0,374.5 397.0,373.4 400.0,372.4 403.0,371.5 406.0,370.5 409.0,369.6 412.0,368.7 415.0,367.9 418.0,367.4 421.0,366.9 424.0,366.4 427.0,365.9 430.0,365.4 433.0,365.0 436.0,364.5 439.0,364.1 442.0,363.6 445.0,363.2 448.0,362.7 451.0,362.3 454.0,362.0 457.0,361.6 460.0,361.4 463.0,361.1 466.0,360.9 469.0,360.8 472.0,360.8 475.0,361.1 478.0,361.5 481.0,361.9 484.0,362.2 487.0,362.9 490.0,364.1 493.0,366.2 496.0,369.4 499.0,372.6 502.0,374.8 505.0,376.3 508.0,377.5 511.0,378.7 514.0,379.8 517.0,380.8 520.0,381.2 523.0,380.8 526.0,379.8 529.0,379.3 532.0,379.9 535.0,381.0 538.0,382.5 541.0,384.1 544.0,385.7 547.0,387.4 550.0,389.2 553.0,390.9 556.0,392.5 559.0,394.0 562.0,395.4 565.0,396.6 568.0,397.7 571.0,398.6 574.0,399.5 577.0,400.2 580.0,400.8 583.0,401.3 586.0,401.7 589.0,402.0 592.0,402.2" fill="none" stroke="#2a2a2a" stroke-width="1.2" opacity="0.6"/>
<polyline points="103.0,375.5 105.0,374.8 107.0,374.2 109.0,373.5 111.0,373.4 113.0,373.9 115.0,372.9 117.0,371.3 119.0,371.0 121.0,370.9 123.0,370.9 125.0,370.8 127.0,370.8 129.0,370.7 131.0,371.2 133.0,372.1 135.0,371.9 137.0,370.7 139.0,370.6 141.0,370.6 143.0,370.5 145.0,370.5 147.0,370.4 149.0,370.3 151.0,370.4 153.0,370.5 155.0,370.6 157.0,370.7 159.0,370.8 161.0,370.9 163.0,371.0 165.0,372.5 167.0,372.7 169.0,371.6 171.0,370.9 173.0,370.6 175.0,370.3 177.0,370.0 179.0,369.7 181.0,369.7 183.0,370.0 185.0,370.2 187.0,369.8 189.0,368.8 191.0,367.8 193.0,367.2 195.0,366.9 197.0,366.6 199.0,366.2 201.0,366.2 203.0,366.3 205.0,366.5 207.0,366.7 209.0,366.8 211.0,367.4 213.0,368.3 215.0,369.2 217.0,367.9 219.0,366.6 221.0,366.0 223.0,366.1 225.0,366.3 227.0,366.4 229.0,366.2 231.0,365.6 233.0,365.0 235.0,364.4 237.0,364.2 239.0,363.9 241.0,363.7 243.0,363.4 245.0,363.2 247.0,362.8 249.0,362.3 251.0,361.9 253.0,361.4 255.0,361.0 257.0,360.7 259.0,360.4 261.0,360.1 263.0,359.8 265.0,359.5 267.0,358.7 269.0,358.0 271.0,357.2 273.0,356.5 275.0,355.8 277.0,355.5 279.0,355.2 281.0,354.9 283.0,354.6 285.0,354.3 287.0,354.1 289.0,353.9 291.0,353.7 293.0,353.6 295.0,353.4 297.0,353.2 299.0,353.0 301.0,352.8 303.0,352.6 305.0,352.5 307.0,352.3 309.0,352.1 311.0,351.9 313.0,351.7 315.0,351.6 317.0,351.4 319.0,351.2 321.0,351.0 323.0,350.7 325.0,350.4 327.0,350.1 329.0,349.8 331.0,349.4 333.0,348.9 335.0,348.5 337.0,348.0 339.0,347.5 341.0,347.1 343.0,346.8 345.0,346.5 347.0,346.2 349.0,345.9 351.0,345.6 353.0,345.3 355.0,345.0 357.0,344.5 359.0,344.0 361.0,343.6 363.0,343.1 365.0,342.6 367.0,342.1 369.0,341.6 371.0,341.9 373.0,343.0 375.0,339.9 377.0,338.0 379.0,337.1 381.0,336.3 383.0,335.4 385.0,334.6 387.0,334.2 389.0,333.8 391.0,333.5 393.0,333.1 395.0,332.7 397.0,333.2 399.0,331.1 401.0,328.5 403.0,328.0 405.0,327.5 407.0,327.0 409.0,326.5 411.0,326.0 413.0,325.6 415.0,325.2 417.0,324.8 419.0,324.4 421.0,324.1 423.0,324.0 425.0,323.8 427.0,323.6 429.0,323.5 431.0,323.3 433.0,323.0 435.0,322.5 437.0,322.0 439.0,321.5 441.0,321.1 443.0,320.8 445.0,320.6 447.0,320.3 449.0,320.1 451.0,319.8 453.0,319.6 455.0,319.3 457.0,319.1 459.0,318.9 461.0,318.8 463.0,318.6 465.0,318.4 467.0,318.3 469.0,318.2 471.0,318.1 473.0,318.0 475.0,317.9 477.0,317.9 479.0,317.8 481.0,318.1 483.0,318.6 485.0,319.1 487.0,320.8 489.0,322.3 491.0,323.1 493.0,323.4 495.0,323.6 497.0,324.7 499.0,326.4 501.0,329.2 503.0,332.5 505.0,339.2 507.0,345.6 509.0,352.6 511.0,355.1 513.0,350.6 515.0,344.6 517.0,341.1 519.0,338.6 521.0,338.0 523.0,338.6 525.0,339.2 527.0,340.3 529.0,341.4 531.0,342.4 533.0,343.5 535.0,344.6 537.0,346.0 539.0,347.3 541.0,348.7 543.0,350.0 545.0,351.4 547.0,353.0 549.0,354.5 551.0,356.0 553.0,357.4 555.0,358.8 557.0,360.2 559.0,361.7 561.0,363.1 563.0,364.5 565.0,365.9 567.0,366.5 569.0,367.1 571.0,367.7 573.0,368.2 575.0,368.8 577.0,369.4 579.0,370.0 581.0,370.6 583.0,371.3 585.0,371.9 587.0,372.6 589.0,373.3 591.0,373.9 593.0,374.6" fill="none" stroke="#d4d4d4" stroke-width="2" opacity="0.9"/>
<path d="M113,398 L116,369 L119,398" fill="none" stroke="#2a2a2a" stroke-width="0.9" opacity="0.55"/>
<path d="M114.5,398 L116,373 L117.5,398" fill="none" stroke="#dddddd" stroke-width="0.8" opacity="0.5"/>
<path d="M131,392 L134,369 L137,392" fill="none" stroke="#2a2a2a" stroke-width="0.9" opacity="0.55"/>
<path d="M132.5,392 L134,373 L135.5,392" fill="none" stroke="#dddddd" stroke-width="0.8" opacity="0.5"/>
<path d="M163,398 L166,370 L169,398" fill="none" stroke="#2a2a2a" stroke-width="0.9" opacity="0.55"/>
<path d="M164.5,398 L166,374 L167.5,398" fill="none" stroke="#dddddd" stroke-width="0.8" opacity="0.5"/>
<path d="M212,398 L215,366 L218,398" fill="none" stroke="#2a2a2a" stroke-width="0.9" opacity="0.55"/>
<path d="M213.5,398 L215,370 L216.5,398" fill="none" stroke="#dddddd" stroke-width="0.8" opacity="0.5"/>
<path d="M225,388 L228,364 L231,388" fill="none" stroke="#2a2a2a" stroke-width="0.9" opacity="0.55"/>
<path d="M226.5,388 L228,368 L229.5,388" fill="none" stroke="#dddddd" stroke-width="0.8" opacity="0.5"/>
<path d="M170,398 L173,385 L176,398" fill="none" stroke="#2a2a2a" stroke-width="0.9" opacity="0.55"/>
<path d="M171.5,398 L173,389 L174.5,398" fill="none" stroke="#dddddd" stroke-width="0.8" opacity="0.5"/>
<path d="M190,396 L193,384 L196,396" fill="none" stroke="#2a2a2a" stroke-width="0.9" opacity="0.55"/>
<path d="M191.5,396 L193,388 L194.5,396" fill="none" stroke="#dddddd" stroke-width="0.8" opacity="0.5"/>
<path d="M243,398 L246,360 L249,398" fill="none" stroke="#2a2a2a" stroke-width="0.9" opacity="0.55"/>
<path d="M244.5,398 L246,364 L247.5,398" fill="none" stroke="#dddddd" stroke-width="0.8" opacity="0.5"/>
<path d="M250,398 L253,375 L256,398" fill="none" stroke="#2a2a2a" stroke-width="0.9" opacity="0.55"/>
<path d="M251.5,398 L253,379 L254.5,398" fill="none" stroke="#dddddd" stroke-width="0.8" opacity="0.5"/>
<path d="M307,385 L310,350 L313,385" fill="none" stroke="#2a2a2a" stroke-width="0.9" opacity="0.55"/>
<path d="M308.5,385 L310,354 L311.5,385" fill="none" stroke="#dddddd" stroke-width="0.8" opacity="0.5"/>
<path d="M370,378 L373,339 L376,378" fill="none" stroke="#2a2a2a" stroke-width="0.9" opacity="0.55"/>
<path d="M371.5,378 L373,343 L374.5,378" fill="none" stroke="#dddddd" stroke-width="0.8" opacity="0.5"/>
<path d="M427,360 L430,322 L433,360" fill="none" stroke="#2a2a2a" stroke-width="0.9" opacity="0.55"/>
<path d="M428.5,360 L430,326 L431.5,360" fill="none" stroke="#dddddd" stroke-width="0.8" opacity="0.5"/>
<path d="M455,360 L458,316 L461,360" fill="none" stroke="#2a2a2a" stroke-width="0.9" opacity="0.55"/>
<path d="M456.5,360 L458,320 L459.5,360" fill="none" stroke="#dddddd" stroke-width="0.8" opacity="0.5"/>
<path d="M503,372 L506,338 L509,372" fill="none" stroke="#2a2a2a" stroke-width="0.9" opacity="0.55"/>
<path d="M504.5,372 L506,342 L507.5,372" fill="none" stroke="#dddddd" stroke-width="0.8" opacity="0.5"/>
<line x1="244" y1="300" x2="244" y2="441" stroke="#e8e8e8" stroke-width="0.8" opacity="0.5"/>
<line x1="272" y1="300" x2="272" y2="441" stroke="#e8e8e8" stroke-width="0.8" opacity="0.5"/>
<rect x="103" y="436.5" width="490" height="2" fill="#333" opacity="0.35"/>
<rect x="103" y="438.5" width="490" height="3" fill="#222" opacity="0.65"/>
</g></g>
<rect x="398.4" y="364.6" width="87.9" height="4.4" fill="#e8e8e8"/>
<rect x="243.3" y="406.6" width="28.7" height="1.5" fill="#f0f0f0"/>
<polyline points="103.0,372.4 110.0,370.1 114.0,371.0 116.0,368.5 118.0,367.9 130.0,367.6 134.0,369.4 137.0,367.6 150.0,367.2 163.0,367.9 166.0,370.1 170.0,367.9 180.0,366.5 186.0,367.2 192.0,364.2 200.0,363.0 210.0,363.8 215.0,366.1 220.0,362.8 228.0,363.4 235.0,361.3 245.0,360.1 255.0,357.9 265.0,356.4 270.0,354.5 275.0,352.7 285.0,351.2 300.0,349.8 320.0,348.0 330.0,346.5 340.0,344.2 355.0,341.9 370.0,338.3 373.0,339.9 376.0,335.3 385.0,331.5 395.0,329.6 398.0,330.3 400.0,325.7" fill="none" stroke="#050505" stroke-width="2.6" stroke-linejoin="round"/>
<g filter="url(#soft2)">
<polyline points="398.0,330.4 400.0,325.8 410.0,323.2 420.0,321.2 432.0,320.2 440.0,318.2 455.0,316.3 465.0,315.4 475.0,314.9 480.0,314.8 485.0,316.1 488.0,318.6 490.0,320.0 495.0,320.6 498.0,322.3 500.0,324.5 503.0,329.5 505.0,336.2 507.0,342.6" fill="none" stroke="#111" stroke-width="2.4" stroke-linejoin="round"/>
<polyline points="517.0,338.0 519.0,335.5 521.0,334.9 525.0,336.1 530.0,338.8 535.0,341.5 540.0,344.9 545.0,348.3 550.0,352.2 565.0,362.8 581.0,367.5 593.0,371.5" fill="none" stroke="#1a1a1a" stroke-width="1.8" stroke-linejoin="round"/>
</g>
<path d="M508,341 L510.5,338.5 L512,341.5 M512,337 L514.5,334.5 L516,338 M509,346 L511,344" fill="none" stroke="#333" stroke-width="1.2"/>
<line x1="103" y1="274.2" x2="103" y2="441.2" stroke="#8a8a8a" stroke-width="1.6"/>
<line x1="593" y1="274.2" x2="593" y2="441.2" stroke="#8a8a8a" stroke-width="1.6"/>
<line x1="104" y1="308.2" x2="593" y2="308.2" stroke="#000" stroke-opacity="0.38" stroke-width="1"/>
<line x1="104" y1="360.7" x2="593" y2="360.7" stroke="#000" stroke-opacity="0.38" stroke-width="1"/>
<line x1="104" y1="413.6" x2="593" y2="413.6" stroke="#000" stroke-opacity="0.38" stroke-width="1"/>
<line x1="102.5" y1="441.2" x2="593.5" y2="441.2" stroke="#555" stroke-width="1.4"/>
<text x="88.5" y="272.2" class="pl">B</text>
<text x="107" y="272" class="lb">West</text>
<text x="564" y="271.7" class="lb" textLength="27" lengthAdjust="spacing">East</text>
<text x="105.6" y="307.6" class="ax" textLength="23.2" lengthAdjust="spacingAndGlyphs">1080</text>
<text x="105.6" y="360" class="ax" textLength="23.2" lengthAdjust="spacingAndGlyphs">1180</text>
<text x="105.6" y="412.6" class="ax" textLength="23.2" lengthAdjust="spacingAndGlyphs">1280</text>
<text x="590.8" y="307.6" class="ax" text-anchor="end">810</text>
<text x="590.8" y="360" class="ax" text-anchor="end">885</text>
<text x="590.8" y="412.6" class="ax" text-anchor="end">960</text>
<text transform="translate(95.4 357.8) rotate(-90)" class="yl" text-anchor="middle">Two-way traveltime (msec)</text>
<text transform="translate(606.4 358.7) rotate(-90)" class="yl" text-anchor="middle">Depth (m)</text>
<text x="463" y="281.9" class="lb" textLength="64" lengthAdjust="spacing">Pockmarks</text>
<line x1="493" y1="285.5" x2="479.7" y2="305.5" stroke="#111" stroke-width="1.5"/>
<polygon points="475.6,311.8 477.5,302.8 483.1,306.6" fill="#111"/>
<line x1="493" y1="285.5" x2="506.8" y2="316.5" stroke="#111" stroke-width="1.5"/>
<polygon points="509.8,323.4 503.2,317.0 509.5,314.3" fill="#111"/>
<rect x="323.3" y="418.2" width="103" height="4.199999999999989" fill="#fff" stroke="#333" stroke-width="1"/>
<rect x="426.3" y="417.8" width="104.3" height="4.9999999999999885" fill="#000"/>
<text x="324" y="433.4" class="sb" text-anchor="middle">0</text>
<text x="426.6" y="433.4" class="sb" text-anchor="middle">5</text>
<text x="527.3" y="433.4" class="sb2">10 km</text>
<text x="71" y="471.7" class="cp" textLength="514" lengthAdjust="spacingAndGlyphs" xml:space="preserve">Fig. 2. Examples of Healy’s Knudsen chirp sonar (center frequency 3.5 kHz) records showing</text>
<text x="71" y="487.2" class="cp" textLength="507.8" lengthAdjust="spacingAndGlyphs" xml:space="preserve">(a) glacial erosion and probable glacially deposited diamictons on Northwind Ridge and</text>
<text x="71" y="502.6" class="cp" textLength="542.3" lengthAdjust="spacingAndGlyphs" xml:space="preserve">(b) pockmark collapse structures, perhaps caused by gas escape from  possible methane build-</text>
<text x="71" y="517.8" class="cp" textLength="530.7" lengthAdjust="spacingAndGlyphs" xml:space="preserve">ups in the sediment on Mendeleyev Ridge as well as uniform sediment drapes. Data was pro-</text>
<text x="71" y="533" class="cp" textLength="169.5" lengthAdjust="spacingAndGlyphs" xml:space="preserve">cessed using Sioseis software.</text>
<rect x="650.3" y="48" width="1.3" height="2" fill="#8a8a8a"/>
<rect x="650.3" y="63.5" width="1.3" height="2" fill="#8a8a8a"/>
<rect x="650.3" y="94.5" width="1.3" height="5.5" fill="#8a8a8a"/>
<rect x="650.3" y="111" width="1.3" height="2" fill="#8a8a8a"/>
<rect x="650.3" y="118" width="1.3" height="6" fill="#8a8a8a"/>
<rect x="650.3" y="135" width="1.3" height="2" fill="#8a8a8a"/>
<rect x="650.3" y="151" width="1.3" height="2" fill="#8a8a8a"/>
<rect x="650.3" y="159" width="1.3" height="4" fill="#8a8a8a"/>
<rect x="650.3" y="167" width="1.3" height="5" fill="#8a8a8a"/>
<rect x="650.3" y="184" width="1.3" height="2" fill="#8a8a8a"/>
<rect x="650.3" y="201" width="1.3" height="2" fill="#8a8a8a"/>
<rect x="650.3" y="217" width="1.3" height="2" fill="#8a8a8a"/>
<rect x="650.3" y="229" width="1.3" height="5.5" fill="#8a8a8a"/>
<rect x="650.3" y="246" width="1.3" height="5.5" fill="#8a8a8a"/>
<rect x="650.3" y="260" width="1.3" height="2" fill="#8a8a8a"/>
<rect x="650.3" y="266" width="1.3" height="2" fill="#8a8a8a"/>
<rect x="650.3" y="283" width="1.3" height="2" fill="#8a8a8a"/>
<rect x="650.3" y="291" width="1.3" height="2" fill="#8a8a8a"/>
<rect x="650.3" y="305" width="1.3" height="2" fill="#8a8a8a"/>
<rect x="650.3" y="311.7" width="1.3" height="5.5" fill="#8a8a8a"/>
<rect x="650.3" y="320.5" width="1.3" height="2" fill="#8a8a8a"/>
<rect x="650.3" y="344" width="1.3" height="2.5" fill="#8a8a8a"/>
<rect x="650.3" y="352" width="1.3" height="2" fill="#8a8a8a"/>
<rect x="650.3" y="430.6" width="1.3" height="10" fill="#8a8a8a"/>
<rect x="650.3" y="450" width="1.3" height="1.5" fill="#8a8a8a"/>
<rect x="650.3" y="453.5" width="1.3" height="2" fill="#8a8a8a"/>
<rect x="650.3" y="460" width="1.3" height="6.5" fill="#8a8a8a"/>
<rect x="650.3" y="473" width="1.3" height="9" fill="#8a8a8a"/>
<rect x="650.3" y="488" width="1.3" height="2" fill="#8a8a8a"/>
<rect x="650.3" y="509" width="1.3" height="9" fill="#8a8a8a"/>
<rect x="650.3" y="531" width="1.3" height="4.5" fill="#8a8a8a"/>
</svg>
</body></html>
